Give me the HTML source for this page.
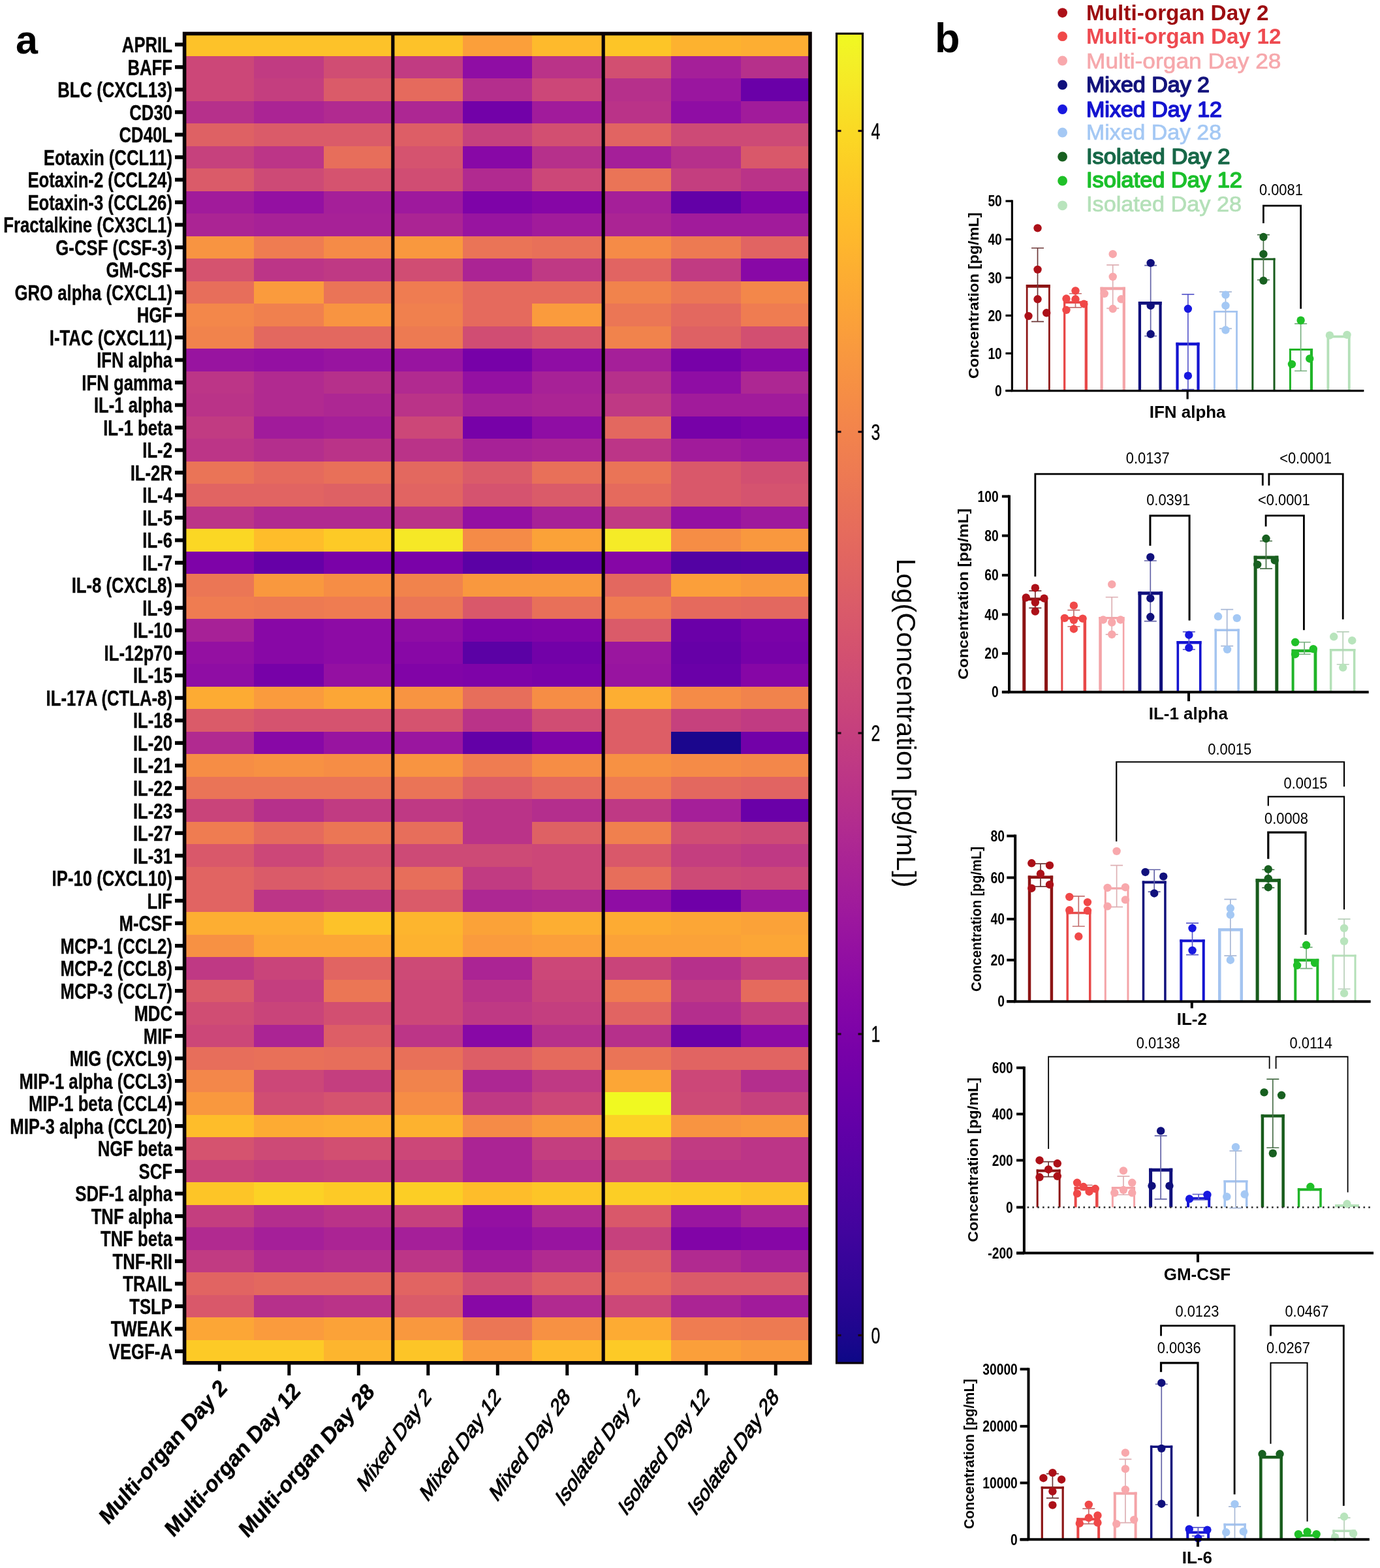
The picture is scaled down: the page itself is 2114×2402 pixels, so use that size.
<!DOCTYPE html>
<html lang="en"><head><meta charset="utf-8"><title>Cytokine heatmap and concentration charts</title>
<style>
html,body{margin:0;padding:0;background:#fff}
body{width:2114px;height:2402px;overflow:hidden}
svg{display:block}
svg text{font-family:"Liberation Sans",sans-serif}
</style></head><body>
<svg width="2114" height="2402" viewBox="0 0 2114 2402">
<rect width="2114" height="2402" fill="#fff"/>
<g shape-rendering="crispEdges">
<rect x="282.6" y="51" width="107.09" height="35.11" fill="#fdc229"/>
<rect x="389.09" y="51" width="107.09" height="35.11" fill="#fdc229"/>
<rect x="495.58" y="51" width="107.09" height="35.11" fill="#fdc229"/>
<rect x="602.07" y="51" width="107.09" height="35.11" fill="#fdc229"/>
<rect x="708.56" y="51" width="107.09" height="35.11" fill="#fb9f3a"/>
<rect x="815.04" y="51" width="107.09" height="35.11" fill="#feba2c"/>
<rect x="921.53" y="51" width="107.09" height="35.11" fill="#fdc527"/>
<rect x="1028.02" y="51" width="107.09" height="35.11" fill="#fdb22f"/>
<rect x="1134.51" y="51" width="107.09" height="35.11" fill="#fdae32"/>
<rect x="282.6" y="85.51" width="107.09" height="35.11" fill="#cc4778"/>
<rect x="389.09" y="85.51" width="107.09" height="35.11" fill="#c13b82"/>
<rect x="495.58" y="85.51" width="107.09" height="35.11" fill="#d04d73"/>
<rect x="602.07" y="85.51" width="107.09" height="35.11" fill="#c13b82"/>
<rect x="708.56" y="85.51" width="107.09" height="35.11" fill="#8f0da4"/>
<rect x="815.04" y="85.51" width="107.09" height="35.11" fill="#ba3388"/>
<rect x="921.53" y="85.51" width="107.09" height="35.11" fill="#d24f71"/>
<rect x="1028.02" y="85.51" width="107.09" height="35.11" fill="#a51f99"/>
<rect x="1134.51" y="85.51" width="107.09" height="35.11" fill="#b6308b"/>
<rect x="282.6" y="120.03" width="107.09" height="35.11" fill="#cc4778"/>
<rect x="389.09" y="120.03" width="107.09" height="35.11" fill="#c43e7f"/>
<rect x="495.58" y="120.03" width="107.09" height="35.11" fill="#da5b69"/>
<rect x="602.07" y="120.03" width="107.09" height="35.11" fill="#e56a5d"/>
<rect x="708.56" y="120.03" width="107.09" height="35.11" fill="#b42e8d"/>
<rect x="815.04" y="120.03" width="107.09" height="35.11" fill="#cc4778"/>
<rect x="921.53" y="120.03" width="107.09" height="35.11" fill="#b6308b"/>
<rect x="1028.02" y="120.03" width="107.09" height="35.11" fill="#9a169f"/>
<rect x="1134.51" y="120.03" width="107.09" height="35.11" fill="#6a00a8"/>
<rect x="282.6" y="154.54" width="107.09" height="35.11" fill="#b6308b"/>
<rect x="389.09" y="154.54" width="107.09" height="35.11" fill="#ab2494"/>
<rect x="495.58" y="154.54" width="107.09" height="35.11" fill="#b12a90"/>
<rect x="602.07" y="154.54" width="107.09" height="35.11" fill="#ad2793"/>
<rect x="708.56" y="154.54" width="107.09" height="35.11" fill="#7201a8"/>
<rect x="815.04" y="154.54" width="107.09" height="35.11" fill="#a11b9b"/>
<rect x="921.53" y="154.54" width="107.09" height="35.11" fill="#ba3388"/>
<rect x="1028.02" y="154.54" width="107.09" height="35.11" fill="#8f0da4"/>
<rect x="1134.51" y="154.54" width="107.09" height="35.11" fill="#a11b9b"/>
<rect x="282.6" y="189.05" width="107.09" height="35.11" fill="#de6164"/>
<rect x="389.09" y="189.05" width="107.09" height="35.11" fill="#da5b69"/>
<rect x="495.58" y="189.05" width="107.09" height="35.11" fill="#da5b69"/>
<rect x="602.07" y="189.05" width="107.09" height="35.11" fill="#dd5e66"/>
<rect x="708.56" y="189.05" width="107.09" height="35.11" fill="#c6417d"/>
<rect x="815.04" y="189.05" width="107.09" height="35.11" fill="#d24f71"/>
<rect x="921.53" y="189.05" width="107.09" height="35.11" fill="#e16462"/>
<rect x="1028.02" y="189.05" width="107.09" height="35.11" fill="#cd4a76"/>
<rect x="1134.51" y="189.05" width="107.09" height="35.11" fill="#cd4a76"/>
<rect x="282.6" y="223.57" width="107.09" height="35.11" fill="#c6417d"/>
<rect x="389.09" y="223.57" width="107.09" height="35.11" fill="#bc3587"/>
<rect x="495.58" y="223.57" width="107.09" height="35.11" fill="#e76e5b"/>
<rect x="602.07" y="223.57" width="107.09" height="35.11" fill="#d5536f"/>
<rect x="708.56" y="223.57" width="107.09" height="35.11" fill="#8808a6"/>
<rect x="815.04" y="223.57" width="107.09" height="35.11" fill="#b6308b"/>
<rect x="921.53" y="223.57" width="107.09" height="35.11" fill="#a51f99"/>
<rect x="1028.02" y="223.57" width="107.09" height="35.11" fill="#b6308b"/>
<rect x="1134.51" y="223.57" width="107.09" height="35.11" fill="#d9586a"/>
<rect x="282.6" y="258.08" width="107.09" height="35.11" fill="#da5b69"/>
<rect x="389.09" y="258.08" width="107.09" height="35.11" fill="#cd4a76"/>
<rect x="495.58" y="258.08" width="107.09" height="35.11" fill="#d5536f"/>
<rect x="602.07" y="258.08" width="107.09" height="35.11" fill="#d04d73"/>
<rect x="708.56" y="258.08" width="107.09" height="35.11" fill="#b12a90"/>
<rect x="815.04" y="258.08" width="107.09" height="35.11" fill="#cc4778"/>
<rect x="921.53" y="258.08" width="107.09" height="35.11" fill="#ea7457"/>
<rect x="1028.02" y="258.08" width="107.09" height="35.11" fill="#c43e7f"/>
<rect x="1134.51" y="258.08" width="107.09" height="35.11" fill="#ba3388"/>
<rect x="282.6" y="292.59" width="107.09" height="35.11" fill="#a11b9b"/>
<rect x="389.09" y="292.59" width="107.09" height="35.11" fill="#9410a2"/>
<rect x="495.58" y="292.59" width="107.09" height="35.11" fill="#a51f99"/>
<rect x="602.07" y="292.59" width="107.09" height="35.11" fill="#9e199d"/>
<rect x="708.56" y="292.59" width="107.09" height="35.11" fill="#7e03a8"/>
<rect x="815.04" y="292.59" width="107.09" height="35.11" fill="#8606a6"/>
<rect x="921.53" y="292.59" width="107.09" height="35.11" fill="#a51f99"/>
<rect x="1028.02" y="292.59" width="107.09" height="35.11" fill="#6300a7"/>
<rect x="1134.51" y="292.59" width="107.09" height="35.11" fill="#8104a7"/>
<rect x="282.6" y="327.11" width="107.09" height="35.11" fill="#ab2494"/>
<rect x="389.09" y="327.11" width="107.09" height="35.11" fill="#a72197"/>
<rect x="495.58" y="327.11" width="107.09" height="35.11" fill="#a72197"/>
<rect x="602.07" y="327.11" width="107.09" height="35.11" fill="#ab2494"/>
<rect x="708.56" y="327.11" width="107.09" height="35.11" fill="#9814a0"/>
<rect x="815.04" y="327.11" width="107.09" height="35.11" fill="#a11b9b"/>
<rect x="921.53" y="327.11" width="107.09" height="35.11" fill="#ab2494"/>
<rect x="1028.02" y="327.11" width="107.09" height="35.11" fill="#a11b9b"/>
<rect x="1134.51" y="327.11" width="107.09" height="35.11" fill="#a11b9b"/>
<rect x="282.6" y="361.62" width="107.09" height="35.11" fill="#f89441"/>
<rect x="389.09" y="361.62" width="107.09" height="35.11" fill="#ef7c51"/>
<rect x="495.58" y="361.62" width="107.09" height="35.11" fill="#f58b47"/>
<rect x="602.07" y="361.62" width="107.09" height="35.11" fill="#f9983e"/>
<rect x="708.56" y="361.62" width="107.09" height="35.11" fill="#ea7457"/>
<rect x="815.04" y="361.62" width="107.09" height="35.11" fill="#e87059"/>
<rect x="921.53" y="361.62" width="107.09" height="35.11" fill="#f58b47"/>
<rect x="1028.02" y="361.62" width="107.09" height="35.11" fill="#ed7a52"/>
<rect x="1134.51" y="361.62" width="107.09" height="35.11" fill="#e16462"/>
<rect x="282.6" y="396.14" width="107.09" height="35.11" fill="#d5536f"/>
<rect x="389.09" y="396.14" width="107.09" height="35.11" fill="#bc3587"/>
<rect x="495.58" y="396.14" width="107.09" height="35.11" fill="#bf3984"/>
<rect x="602.07" y="396.14" width="107.09" height="35.11" fill="#d04d73"/>
<rect x="708.56" y="396.14" width="107.09" height="35.11" fill="#ab2494"/>
<rect x="815.04" y="396.14" width="107.09" height="35.11" fill="#bf3984"/>
<rect x="921.53" y="396.14" width="107.09" height="35.11" fill="#e16462"/>
<rect x="1028.02" y="396.14" width="107.09" height="35.11" fill="#c13b82"/>
<rect x="1134.51" y="396.14" width="107.09" height="35.11" fill="#8808a6"/>
<rect x="282.6" y="430.65" width="107.09" height="35.11" fill="#e76e5b"/>
<rect x="389.09" y="430.65" width="107.09" height="35.11" fill="#fa9b3d"/>
<rect x="495.58" y="430.65" width="107.09" height="35.11" fill="#ea7457"/>
<rect x="602.07" y="430.65" width="107.09" height="35.11" fill="#ef7c51"/>
<rect x="708.56" y="430.65" width="107.09" height="35.11" fill="#e56a5d"/>
<rect x="815.04" y="430.65" width="107.09" height="35.11" fill="#e56a5d"/>
<rect x="921.53" y="430.65" width="107.09" height="35.11" fill="#f1834c"/>
<rect x="1028.02" y="430.65" width="107.09" height="35.11" fill="#eb7655"/>
<rect x="1134.51" y="430.65" width="107.09" height="35.11" fill="#f3874a"/>
<rect x="282.6" y="465.16" width="107.09" height="35.11" fill="#f3874a"/>
<rect x="389.09" y="465.16" width="107.09" height="35.11" fill="#f0804e"/>
<rect x="495.58" y="465.16" width="107.09" height="35.11" fill="#f89441"/>
<rect x="602.07" y="465.16" width="107.09" height="35.11" fill="#f0804e"/>
<rect x="708.56" y="465.16" width="107.09" height="35.11" fill="#e56a5d"/>
<rect x="815.04" y="465.16" width="107.09" height="35.11" fill="#fa9b3d"/>
<rect x="921.53" y="465.16" width="107.09" height="35.11" fill="#eb7655"/>
<rect x="1028.02" y="465.16" width="107.09" height="35.11" fill="#e3685f"/>
<rect x="1134.51" y="465.16" width="107.09" height="35.11" fill="#ef7c51"/>
<rect x="282.6" y="499.68" width="107.09" height="35.11" fill="#f1834c"/>
<rect x="389.09" y="499.68" width="107.09" height="35.11" fill="#e3685f"/>
<rect x="495.58" y="499.68" width="107.09" height="35.11" fill="#e3685f"/>
<rect x="602.07" y="499.68" width="107.09" height="35.11" fill="#ed7a52"/>
<rect x="708.56" y="499.68" width="107.09" height="35.11" fill="#d04d73"/>
<rect x="815.04" y="499.68" width="107.09" height="35.11" fill="#d9586a"/>
<rect x="921.53" y="499.68" width="107.09" height="35.11" fill="#f1834c"/>
<rect x="1028.02" y="499.68" width="107.09" height="35.11" fill="#de6164"/>
<rect x="1134.51" y="499.68" width="107.09" height="35.11" fill="#d24f71"/>
<rect x="282.6" y="534.19" width="107.09" height="35.11" fill="#9814a0"/>
<rect x="389.09" y="534.19" width="107.09" height="35.11" fill="#9410a2"/>
<rect x="495.58" y="534.19" width="107.09" height="35.11" fill="#9814a0"/>
<rect x="602.07" y="534.19" width="107.09" height="35.11" fill="#9814a0"/>
<rect x="708.56" y="534.19" width="107.09" height="35.11" fill="#7701a8"/>
<rect x="815.04" y="534.19" width="107.09" height="35.11" fill="#8f0da4"/>
<rect x="921.53" y="534.19" width="107.09" height="35.11" fill="#a51f99"/>
<rect x="1028.02" y="534.19" width="107.09" height="35.11" fill="#7701a8"/>
<rect x="1134.51" y="534.19" width="107.09" height="35.11" fill="#8808a6"/>
<rect x="282.6" y="568.7" width="107.09" height="35.11" fill="#bc3587"/>
<rect x="389.09" y="568.7" width="107.09" height="35.11" fill="#b12a90"/>
<rect x="495.58" y="568.7" width="107.09" height="35.11" fill="#b6308b"/>
<rect x="602.07" y="568.7" width="107.09" height="35.11" fill="#b12a90"/>
<rect x="708.56" y="568.7" width="107.09" height="35.11" fill="#9410a2"/>
<rect x="815.04" y="568.7" width="107.09" height="35.11" fill="#a72197"/>
<rect x="921.53" y="568.7" width="107.09" height="35.11" fill="#b6308b"/>
<rect x="1028.02" y="568.7" width="107.09" height="35.11" fill="#8f0da4"/>
<rect x="1134.51" y="568.7" width="107.09" height="35.11" fill="#ad2793"/>
<rect x="282.6" y="603.22" width="107.09" height="35.11" fill="#ba3388"/>
<rect x="389.09" y="603.22" width="107.09" height="35.11" fill="#b12a90"/>
<rect x="495.58" y="603.22" width="107.09" height="35.11" fill="#ad2793"/>
<rect x="602.07" y="603.22" width="107.09" height="35.11" fill="#ba3388"/>
<rect x="708.56" y="603.22" width="107.09" height="35.11" fill="#a72197"/>
<rect x="815.04" y="603.22" width="107.09" height="35.11" fill="#ab2494"/>
<rect x="921.53" y="603.22" width="107.09" height="35.11" fill="#bf3984"/>
<rect x="1028.02" y="603.22" width="107.09" height="35.11" fill="#a11b9b"/>
<rect x="1134.51" y="603.22" width="107.09" height="35.11" fill="#a11b9b"/>
<rect x="282.6" y="637.73" width="107.09" height="35.11" fill="#c13b82"/>
<rect x="389.09" y="637.73" width="107.09" height="35.11" fill="#a11b9b"/>
<rect x="495.58" y="637.73" width="107.09" height="35.11" fill="#a51f99"/>
<rect x="602.07" y="637.73" width="107.09" height="35.11" fill="#cc4778"/>
<rect x="708.56" y="637.73" width="107.09" height="35.11" fill="#7701a8"/>
<rect x="815.04" y="637.73" width="107.09" height="35.11" fill="#8f0da4"/>
<rect x="921.53" y="637.73" width="107.09" height="35.11" fill="#e3685f"/>
<rect x="1028.02" y="637.73" width="107.09" height="35.11" fill="#7701a8"/>
<rect x="1134.51" y="637.73" width="107.09" height="35.11" fill="#7e03a8"/>
<rect x="282.6" y="672.24" width="107.09" height="35.11" fill="#bc3587"/>
<rect x="389.09" y="672.24" width="107.09" height="35.11" fill="#b42e8d"/>
<rect x="495.58" y="672.24" width="107.09" height="35.11" fill="#ba3388"/>
<rect x="602.07" y="672.24" width="107.09" height="35.11" fill="#ba3388"/>
<rect x="708.56" y="672.24" width="107.09" height="35.11" fill="#a72197"/>
<rect x="815.04" y="672.24" width="107.09" height="35.11" fill="#ab2494"/>
<rect x="921.53" y="672.24" width="107.09" height="35.11" fill="#bc3587"/>
<rect x="1028.02" y="672.24" width="107.09" height="35.11" fill="#a11b9b"/>
<rect x="1134.51" y="672.24" width="107.09" height="35.11" fill="#9a169f"/>
<rect x="282.6" y="706.76" width="107.09" height="35.11" fill="#ea7457"/>
<rect x="389.09" y="706.76" width="107.09" height="35.11" fill="#e56a5d"/>
<rect x="495.58" y="706.76" width="107.09" height="35.11" fill="#e87059"/>
<rect x="602.07" y="706.76" width="107.09" height="35.11" fill="#e3685f"/>
<rect x="708.56" y="706.76" width="107.09" height="35.11" fill="#da5b69"/>
<rect x="815.04" y="706.76" width="107.09" height="35.11" fill="#e87059"/>
<rect x="921.53" y="706.76" width="107.09" height="35.11" fill="#ea7457"/>
<rect x="1028.02" y="706.76" width="107.09" height="35.11" fill="#d9586a"/>
<rect x="1134.51" y="706.76" width="107.09" height="35.11" fill="#d24f71"/>
<rect x="282.6" y="741.27" width="107.09" height="35.11" fill="#e16462"/>
<rect x="389.09" y="741.27" width="107.09" height="35.11" fill="#e16462"/>
<rect x="495.58" y="741.27" width="107.09" height="35.11" fill="#de6164"/>
<rect x="602.07" y="741.27" width="107.09" height="35.11" fill="#e16462"/>
<rect x="708.56" y="741.27" width="107.09" height="35.11" fill="#d5536f"/>
<rect x="815.04" y="741.27" width="107.09" height="35.11" fill="#da5b69"/>
<rect x="921.53" y="741.27" width="107.09" height="35.11" fill="#e56a5d"/>
<rect x="1028.02" y="741.27" width="107.09" height="35.11" fill="#d9586a"/>
<rect x="1134.51" y="741.27" width="107.09" height="35.11" fill="#d5536f"/>
<rect x="282.6" y="775.78" width="107.09" height="35.11" fill="#bc3587"/>
<rect x="389.09" y="775.78" width="107.09" height="35.11" fill="#b12a90"/>
<rect x="495.58" y="775.78" width="107.09" height="35.11" fill="#b12a90"/>
<rect x="602.07" y="775.78" width="107.09" height="35.11" fill="#ba3388"/>
<rect x="708.56" y="775.78" width="107.09" height="35.11" fill="#9410a2"/>
<rect x="815.04" y="775.78" width="107.09" height="35.11" fill="#a72197"/>
<rect x="921.53" y="775.78" width="107.09" height="35.11" fill="#c13b82"/>
<rect x="1028.02" y="775.78" width="107.09" height="35.11" fill="#9410a2"/>
<rect x="1134.51" y="775.78" width="107.09" height="35.11" fill="#9e199d"/>
<rect x="282.6" y="810.3" width="107.09" height="35.11" fill="#fbd724"/>
<rect x="389.09" y="810.3" width="107.09" height="35.11" fill="#febd2a"/>
<rect x="495.58" y="810.3" width="107.09" height="35.11" fill="#fdca26"/>
<rect x="602.07" y="810.3" width="107.09" height="35.11" fill="#f6e826"/>
<rect x="708.56" y="810.3" width="107.09" height="35.11" fill="#f58b47"/>
<rect x="815.04" y="810.3" width="107.09" height="35.11" fill="#fba238"/>
<rect x="921.53" y="810.3" width="107.09" height="35.11" fill="#f5eb27"/>
<rect x="1028.02" y="810.3" width="107.09" height="35.11" fill="#f68d45"/>
<rect x="1134.51" y="810.3" width="107.09" height="35.11" fill="#f9983e"/>
<rect x="282.6" y="844.81" width="107.09" height="35.11" fill="#7e03a8"/>
<rect x="389.09" y="844.81" width="107.09" height="35.11" fill="#6600a7"/>
<rect x="495.58" y="844.81" width="107.09" height="35.11" fill="#7a02a8"/>
<rect x="602.07" y="844.81" width="107.09" height="35.11" fill="#7a02a8"/>
<rect x="708.56" y="844.81" width="107.09" height="35.11" fill="#5b01a5"/>
<rect x="815.04" y="844.81" width="107.09" height="35.11" fill="#6300a7"/>
<rect x="921.53" y="844.81" width="107.09" height="35.11" fill="#8606a6"/>
<rect x="1028.02" y="844.81" width="107.09" height="35.11" fill="#5302a3"/>
<rect x="1134.51" y="844.81" width="107.09" height="35.11" fill="#5601a4"/>
<rect x="282.6" y="879.33" width="107.09" height="35.11" fill="#eb7655"/>
<rect x="389.09" y="879.33" width="107.09" height="35.11" fill="#f9983e"/>
<rect x="495.58" y="879.33" width="107.09" height="35.11" fill="#f68d45"/>
<rect x="602.07" y="879.33" width="107.09" height="35.11" fill="#f1834c"/>
<rect x="708.56" y="879.33" width="107.09" height="35.11" fill="#f9983e"/>
<rect x="815.04" y="879.33" width="107.09" height="35.11" fill="#f9983e"/>
<rect x="921.53" y="879.33" width="107.09" height="35.11" fill="#e3685f"/>
<rect x="1028.02" y="879.33" width="107.09" height="35.11" fill="#fb9f3a"/>
<rect x="1134.51" y="879.33" width="107.09" height="35.11" fill="#f9983e"/>
<rect x="282.6" y="913.84" width="107.09" height="35.11" fill="#ef7c51"/>
<rect x="389.09" y="913.84" width="107.09" height="35.11" fill="#ed7a52"/>
<rect x="495.58" y="913.84" width="107.09" height="35.11" fill="#ef7c51"/>
<rect x="602.07" y="913.84" width="107.09" height="35.11" fill="#eb7655"/>
<rect x="708.56" y="913.84" width="107.09" height="35.11" fill="#d9586a"/>
<rect x="815.04" y="913.84" width="107.09" height="35.11" fill="#e87059"/>
<rect x="921.53" y="913.84" width="107.09" height="35.11" fill="#ef7c51"/>
<rect x="1028.02" y="913.84" width="107.09" height="35.11" fill="#e56a5d"/>
<rect x="1134.51" y="913.84" width="107.09" height="35.11" fill="#e3685f"/>
<rect x="282.6" y="948.35" width="107.09" height="35.11" fill="#a72197"/>
<rect x="389.09" y="948.35" width="107.09" height="35.11" fill="#8808a6"/>
<rect x="495.58" y="948.35" width="107.09" height="35.11" fill="#8d0ba5"/>
<rect x="602.07" y="948.35" width="107.09" height="35.11" fill="#8f0da4"/>
<rect x="708.56" y="948.35" width="107.09" height="35.11" fill="#7e03a8"/>
<rect x="815.04" y="948.35" width="107.09" height="35.11" fill="#8104a7"/>
<rect x="921.53" y="948.35" width="107.09" height="35.11" fill="#da5b69"/>
<rect x="1028.02" y="948.35" width="107.09" height="35.11" fill="#6a00a8"/>
<rect x="1134.51" y="948.35" width="107.09" height="35.11" fill="#7a02a8"/>
<rect x="282.6" y="982.87" width="107.09" height="35.11" fill="#9410a2"/>
<rect x="389.09" y="982.87" width="107.09" height="35.11" fill="#8808a6"/>
<rect x="495.58" y="982.87" width="107.09" height="35.11" fill="#8d0ba5"/>
<rect x="602.07" y="982.87" width="107.09" height="35.11" fill="#8808a6"/>
<rect x="708.56" y="982.87" width="107.09" height="35.11" fill="#5b01a5"/>
<rect x="815.04" y="982.87" width="107.09" height="35.11" fill="#7201a8"/>
<rect x="921.53" y="982.87" width="107.09" height="35.11" fill="#9a169f"/>
<rect x="1028.02" y="982.87" width="107.09" height="35.11" fill="#6600a7"/>
<rect x="1134.51" y="982.87" width="107.09" height="35.11" fill="#7701a8"/>
<rect x="282.6" y="1017.38" width="107.09" height="35.11" fill="#8f0da4"/>
<rect x="389.09" y="1017.38" width="107.09" height="35.11" fill="#7701a8"/>
<rect x="495.58" y="1017.38" width="107.09" height="35.11" fill="#9410a2"/>
<rect x="602.07" y="1017.38" width="107.09" height="35.11" fill="#8104a7"/>
<rect x="708.56" y="1017.38" width="107.09" height="35.11" fill="#7e03a8"/>
<rect x="815.04" y="1017.38" width="107.09" height="35.11" fill="#7a02a8"/>
<rect x="921.53" y="1017.38" width="107.09" height="35.11" fill="#9814a0"/>
<rect x="1028.02" y="1017.38" width="107.09" height="35.11" fill="#6a00a8"/>
<rect x="1134.51" y="1017.38" width="107.09" height="35.11" fill="#8606a6"/>
<rect x="282.6" y="1051.89" width="107.09" height="35.11" fill="#fdab33"/>
<rect x="389.09" y="1051.89" width="107.09" height="35.11" fill="#fa9b3d"/>
<rect x="495.58" y="1051.89" width="107.09" height="35.11" fill="#fca636"/>
<rect x="602.07" y="1051.89" width="107.09" height="35.11" fill="#f89441"/>
<rect x="708.56" y="1051.89" width="107.09" height="35.11" fill="#e76e5b"/>
<rect x="815.04" y="1051.89" width="107.09" height="35.11" fill="#f68d45"/>
<rect x="921.53" y="1051.89" width="107.09" height="35.11" fill="#fdae32"/>
<rect x="1028.02" y="1051.89" width="107.09" height="35.11" fill="#f58b47"/>
<rect x="1134.51" y="1051.89" width="107.09" height="35.11" fill="#f1834c"/>
<rect x="282.6" y="1086.41" width="107.09" height="35.11" fill="#da5b69"/>
<rect x="389.09" y="1086.41" width="107.09" height="35.11" fill="#d5536f"/>
<rect x="495.58" y="1086.41" width="107.09" height="35.11" fill="#d5536f"/>
<rect x="602.07" y="1086.41" width="107.09" height="35.11" fill="#d5536f"/>
<rect x="708.56" y="1086.41" width="107.09" height="35.11" fill="#ba3388"/>
<rect x="815.04" y="1086.41" width="107.09" height="35.11" fill="#d04d73"/>
<rect x="921.53" y="1086.41" width="107.09" height="35.11" fill="#dd5e66"/>
<rect x="1028.02" y="1086.41" width="107.09" height="35.11" fill="#c6417d"/>
<rect x="1134.51" y="1086.41" width="107.09" height="35.11" fill="#c13b82"/>
<rect x="282.6" y="1120.92" width="107.09" height="35.11" fill="#b12a90"/>
<rect x="389.09" y="1120.92" width="107.09" height="35.11" fill="#8808a6"/>
<rect x="495.58" y="1120.92" width="107.09" height="35.11" fill="#9814a0"/>
<rect x="602.07" y="1120.92" width="107.09" height="35.11" fill="#9a169f"/>
<rect x="708.56" y="1120.92" width="107.09" height="35.11" fill="#6300a7"/>
<rect x="815.04" y="1120.92" width="107.09" height="35.11" fill="#7e03a8"/>
<rect x="921.53" y="1120.92" width="107.09" height="35.11" fill="#dd5e66"/>
<rect x="1028.02" y="1120.92" width="107.09" height="35.11" fill="#1b068d"/>
<rect x="1134.51" y="1120.92" width="107.09" height="35.11" fill="#7201a8"/>
<rect x="282.6" y="1155.43" width="107.09" height="35.11" fill="#f68d45"/>
<rect x="389.09" y="1155.43" width="107.09" height="35.11" fill="#f79143"/>
<rect x="495.58" y="1155.43" width="107.09" height="35.11" fill="#f68d45"/>
<rect x="602.07" y="1155.43" width="107.09" height="35.11" fill="#f89441"/>
<rect x="708.56" y="1155.43" width="107.09" height="35.11" fill="#ef7c51"/>
<rect x="815.04" y="1155.43" width="107.09" height="35.11" fill="#f68d45"/>
<rect x="921.53" y="1155.43" width="107.09" height="35.11" fill="#f79143"/>
<rect x="1028.02" y="1155.43" width="107.09" height="35.11" fill="#f58b47"/>
<rect x="1134.51" y="1155.43" width="107.09" height="35.11" fill="#f3874a"/>
<rect x="282.6" y="1189.95" width="107.09" height="35.11" fill="#ea7457"/>
<rect x="389.09" y="1189.95" width="107.09" height="35.11" fill="#ea7457"/>
<rect x="495.58" y="1189.95" width="107.09" height="35.11" fill="#ea7457"/>
<rect x="602.07" y="1189.95" width="107.09" height="35.11" fill="#ea7457"/>
<rect x="708.56" y="1189.95" width="107.09" height="35.11" fill="#dd5e66"/>
<rect x="815.04" y="1189.95" width="107.09" height="35.11" fill="#e56a5d"/>
<rect x="921.53" y="1189.95" width="107.09" height="35.11" fill="#ef7c51"/>
<rect x="1028.02" y="1189.95" width="107.09" height="35.11" fill="#e3685f"/>
<rect x="1134.51" y="1189.95" width="107.09" height="35.11" fill="#e16462"/>
<rect x="282.6" y="1224.46" width="107.09" height="35.11" fill="#c9447a"/>
<rect x="389.09" y="1224.46" width="107.09" height="35.11" fill="#b6308b"/>
<rect x="495.58" y="1224.46" width="107.09" height="35.11" fill="#c13b82"/>
<rect x="602.07" y="1224.46" width="107.09" height="35.11" fill="#bf3984"/>
<rect x="708.56" y="1224.46" width="107.09" height="35.11" fill="#ba3388"/>
<rect x="815.04" y="1224.46" width="107.09" height="35.11" fill="#b42e8d"/>
<rect x="921.53" y="1224.46" width="107.09" height="35.11" fill="#bf3984"/>
<rect x="1028.02" y="1224.46" width="107.09" height="35.11" fill="#a51f99"/>
<rect x="1134.51" y="1224.46" width="107.09" height="35.11" fill="#6a00a8"/>
<rect x="282.6" y="1258.97" width="107.09" height="35.11" fill="#ef7c51"/>
<rect x="389.09" y="1258.97" width="107.09" height="35.11" fill="#e56a5d"/>
<rect x="495.58" y="1258.97" width="107.09" height="35.11" fill="#eb7655"/>
<rect x="602.07" y="1258.97" width="107.09" height="35.11" fill="#e76e5b"/>
<rect x="708.56" y="1258.97" width="107.09" height="35.11" fill="#ba3388"/>
<rect x="815.04" y="1258.97" width="107.09" height="35.11" fill="#de6164"/>
<rect x="921.53" y="1258.97" width="107.09" height="35.11" fill="#f0804e"/>
<rect x="1028.02" y="1258.97" width="107.09" height="35.11" fill="#d04d73"/>
<rect x="1134.51" y="1258.97" width="107.09" height="35.11" fill="#cd4a76"/>
<rect x="282.6" y="1293.49" width="107.09" height="35.11" fill="#d9586a"/>
<rect x="389.09" y="1293.49" width="107.09" height="35.11" fill="#cc4778"/>
<rect x="495.58" y="1293.49" width="107.09" height="35.11" fill="#d5536f"/>
<rect x="602.07" y="1293.49" width="107.09" height="35.11" fill="#cd4a76"/>
<rect x="708.56" y="1293.49" width="107.09" height="35.11" fill="#cd4a76"/>
<rect x="815.04" y="1293.49" width="107.09" height="35.11" fill="#cc4778"/>
<rect x="921.53" y="1293.49" width="107.09" height="35.11" fill="#d9586a"/>
<rect x="1028.02" y="1293.49" width="107.09" height="35.11" fill="#c43e7f"/>
<rect x="1134.51" y="1293.49" width="107.09" height="35.11" fill="#bf3984"/>
<rect x="282.6" y="1328" width="107.09" height="35.11" fill="#e16462"/>
<rect x="389.09" y="1328" width="107.09" height="35.11" fill="#da5b69"/>
<rect x="495.58" y="1328" width="107.09" height="35.11" fill="#dd5e66"/>
<rect x="602.07" y="1328" width="107.09" height="35.11" fill="#e76e5b"/>
<rect x="708.56" y="1328" width="107.09" height="35.11" fill="#c13b82"/>
<rect x="815.04" y="1328" width="107.09" height="35.11" fill="#cc4778"/>
<rect x="921.53" y="1328" width="107.09" height="35.11" fill="#e76e5b"/>
<rect x="1028.02" y="1328" width="107.09" height="35.11" fill="#cd4a76"/>
<rect x="1134.51" y="1328" width="107.09" height="35.11" fill="#cc4778"/>
<rect x="282.6" y="1362.52" width="107.09" height="35.11" fill="#e16462"/>
<rect x="389.09" y="1362.52" width="107.09" height="35.11" fill="#bc3587"/>
<rect x="495.58" y="1362.52" width="107.09" height="35.11" fill="#c13b82"/>
<rect x="602.07" y="1362.52" width="107.09" height="35.11" fill="#da5b69"/>
<rect x="708.56" y="1362.52" width="107.09" height="35.11" fill="#ad2793"/>
<rect x="815.04" y="1362.52" width="107.09" height="35.11" fill="#b12a90"/>
<rect x="921.53" y="1362.52" width="107.09" height="35.11" fill="#8f0da4"/>
<rect x="1028.02" y="1362.52" width="107.09" height="35.11" fill="#6f00a8"/>
<rect x="1134.51" y="1362.52" width="107.09" height="35.11" fill="#9a169f"/>
<rect x="282.6" y="1397.03" width="107.09" height="35.11" fill="#fdae32"/>
<rect x="389.09" y="1397.03" width="107.09" height="35.11" fill="#fdae32"/>
<rect x="495.58" y="1397.03" width="107.09" height="35.11" fill="#fdc229"/>
<rect x="602.07" y="1397.03" width="107.09" height="35.11" fill="#fdb52e"/>
<rect x="708.56" y="1397.03" width="107.09" height="35.11" fill="#fba238"/>
<rect x="815.04" y="1397.03" width="107.09" height="35.11" fill="#fdae32"/>
<rect x="921.53" y="1397.03" width="107.09" height="35.11" fill="#fdab33"/>
<rect x="1028.02" y="1397.03" width="107.09" height="35.11" fill="#fca636"/>
<rect x="1134.51" y="1397.03" width="107.09" height="35.11" fill="#fba238"/>
<rect x="282.6" y="1431.54" width="107.09" height="35.11" fill="#f79143"/>
<rect x="389.09" y="1431.54" width="107.09" height="35.11" fill="#fca636"/>
<rect x="495.58" y="1431.54" width="107.09" height="35.11" fill="#fca636"/>
<rect x="602.07" y="1431.54" width="107.09" height="35.11" fill="#fdb22f"/>
<rect x="708.56" y="1431.54" width="107.09" height="35.11" fill="#fa9b3d"/>
<rect x="815.04" y="1431.54" width="107.09" height="35.11" fill="#fb9f3a"/>
<rect x="921.53" y="1431.54" width="107.09" height="35.11" fill="#fba238"/>
<rect x="1028.02" y="1431.54" width="107.09" height="35.11" fill="#fba238"/>
<rect x="1134.51" y="1431.54" width="107.09" height="35.11" fill="#fca636"/>
<rect x="282.6" y="1466.06" width="107.09" height="35.11" fill="#bf3984"/>
<rect x="389.09" y="1466.06" width="107.09" height="35.11" fill="#c9447a"/>
<rect x="495.58" y="1466.06" width="107.09" height="35.11" fill="#e16462"/>
<rect x="602.07" y="1466.06" width="107.09" height="35.11" fill="#cd4a76"/>
<rect x="708.56" y="1466.06" width="107.09" height="35.11" fill="#ab2494"/>
<rect x="815.04" y="1466.06" width="107.09" height="35.11" fill="#cc4778"/>
<rect x="921.53" y="1466.06" width="107.09" height="35.11" fill="#c9447a"/>
<rect x="1028.02" y="1466.06" width="107.09" height="35.11" fill="#b6308b"/>
<rect x="1134.51" y="1466.06" width="107.09" height="35.11" fill="#c6417d"/>
<rect x="282.6" y="1500.57" width="107.09" height="35.11" fill="#da5b69"/>
<rect x="389.09" y="1500.57" width="107.09" height="35.11" fill="#c43e7f"/>
<rect x="495.58" y="1500.57" width="107.09" height="35.11" fill="#eb7655"/>
<rect x="602.07" y="1500.57" width="107.09" height="35.11" fill="#cc4778"/>
<rect x="708.56" y="1500.57" width="107.09" height="35.11" fill="#ba3388"/>
<rect x="815.04" y="1500.57" width="107.09" height="35.11" fill="#c9447a"/>
<rect x="921.53" y="1500.57" width="107.09" height="35.11" fill="#ef7c51"/>
<rect x="1028.02" y="1500.57" width="107.09" height="35.11" fill="#bf3984"/>
<rect x="1134.51" y="1500.57" width="107.09" height="35.11" fill="#e56a5d"/>
<rect x="282.6" y="1535.08" width="107.09" height="35.11" fill="#d04d73"/>
<rect x="389.09" y="1535.08" width="107.09" height="35.11" fill="#c9447a"/>
<rect x="495.58" y="1535.08" width="107.09" height="35.11" fill="#d24f71"/>
<rect x="602.07" y="1535.08" width="107.09" height="35.11" fill="#cc4778"/>
<rect x="708.56" y="1535.08" width="107.09" height="35.11" fill="#bf3984"/>
<rect x="815.04" y="1535.08" width="107.09" height="35.11" fill="#c43e7f"/>
<rect x="921.53" y="1535.08" width="107.09" height="35.11" fill="#e16462"/>
<rect x="1028.02" y="1535.08" width="107.09" height="35.11" fill="#b42e8d"/>
<rect x="1134.51" y="1535.08" width="107.09" height="35.11" fill="#c43e7f"/>
<rect x="282.6" y="1569.6" width="107.09" height="35.11" fill="#cc4778"/>
<rect x="389.09" y="1569.6" width="107.09" height="35.11" fill="#ab2494"/>
<rect x="495.58" y="1569.6" width="107.09" height="35.11" fill="#dd5e66"/>
<rect x="602.07" y="1569.6" width="107.09" height="35.11" fill="#bc3587"/>
<rect x="708.56" y="1569.6" width="107.09" height="35.11" fill="#8808a6"/>
<rect x="815.04" y="1569.6" width="107.09" height="35.11" fill="#b6308b"/>
<rect x="921.53" y="1569.6" width="107.09" height="35.11" fill="#b6308b"/>
<rect x="1028.02" y="1569.6" width="107.09" height="35.11" fill="#6a00a8"/>
<rect x="1134.51" y="1569.6" width="107.09" height="35.11" fill="#8d0ba5"/>
<rect x="282.6" y="1604.11" width="107.09" height="35.11" fill="#e76e5b"/>
<rect x="389.09" y="1604.11" width="107.09" height="35.11" fill="#e87059"/>
<rect x="495.58" y="1604.11" width="107.09" height="35.11" fill="#e76e5b"/>
<rect x="602.07" y="1604.11" width="107.09" height="35.11" fill="#e87059"/>
<rect x="708.56" y="1604.11" width="107.09" height="35.11" fill="#dd5e66"/>
<rect x="815.04" y="1604.11" width="107.09" height="35.11" fill="#e56a5d"/>
<rect x="921.53" y="1604.11" width="107.09" height="35.11" fill="#ea7457"/>
<rect x="1028.02" y="1604.11" width="107.09" height="35.11" fill="#e16462"/>
<rect x="1134.51" y="1604.11" width="107.09" height="35.11" fill="#e16462"/>
<rect x="282.6" y="1638.62" width="107.09" height="35.11" fill="#f3874a"/>
<rect x="389.09" y="1638.62" width="107.09" height="35.11" fill="#cc4778"/>
<rect x="495.58" y="1638.62" width="107.09" height="35.11" fill="#c43e7f"/>
<rect x="602.07" y="1638.62" width="107.09" height="35.11" fill="#f1834c"/>
<rect x="708.56" y="1638.62" width="107.09" height="35.11" fill="#ad2793"/>
<rect x="815.04" y="1638.62" width="107.09" height="35.11" fill="#bf3984"/>
<rect x="921.53" y="1638.62" width="107.09" height="35.11" fill="#fca636"/>
<rect x="1028.02" y="1638.62" width="107.09" height="35.11" fill="#cc4778"/>
<rect x="1134.51" y="1638.62" width="107.09" height="35.11" fill="#b42e8d"/>
<rect x="282.6" y="1673.14" width="107.09" height="35.11" fill="#f9983e"/>
<rect x="389.09" y="1673.14" width="107.09" height="35.11" fill="#d04d73"/>
<rect x="495.58" y="1673.14" width="107.09" height="35.11" fill="#d5536f"/>
<rect x="602.07" y="1673.14" width="107.09" height="35.11" fill="#f68d45"/>
<rect x="708.56" y="1673.14" width="107.09" height="35.11" fill="#bf3984"/>
<rect x="815.04" y="1673.14" width="107.09" height="35.11" fill="#cc4778"/>
<rect x="921.53" y="1673.14" width="107.09" height="35.11" fill="#f0f921"/>
<rect x="1028.02" y="1673.14" width="107.09" height="35.11" fill="#cd4a76"/>
<rect x="1134.51" y="1673.14" width="107.09" height="35.11" fill="#c6417d"/>
<rect x="282.6" y="1707.65" width="107.09" height="35.11" fill="#febd2a"/>
<rect x="389.09" y="1707.65" width="107.09" height="35.11" fill="#fdab33"/>
<rect x="495.58" y="1707.65" width="107.09" height="35.11" fill="#fdae32"/>
<rect x="602.07" y="1707.65" width="107.09" height="35.11" fill="#fdb22f"/>
<rect x="708.56" y="1707.65" width="107.09" height="35.11" fill="#f58b47"/>
<rect x="815.04" y="1707.65" width="107.09" height="35.11" fill="#f9983e"/>
<rect x="921.53" y="1707.65" width="107.09" height="35.11" fill="#fcd225"/>
<rect x="1028.02" y="1707.65" width="107.09" height="35.11" fill="#f89441"/>
<rect x="1134.51" y="1707.65" width="107.09" height="35.11" fill="#f9983e"/>
<rect x="282.6" y="1742.16" width="107.09" height="35.11" fill="#d5536f"/>
<rect x="389.09" y="1742.16" width="107.09" height="35.11" fill="#cd4a76"/>
<rect x="495.58" y="1742.16" width="107.09" height="35.11" fill="#d24f71"/>
<rect x="602.07" y="1742.16" width="107.09" height="35.11" fill="#cc4778"/>
<rect x="708.56" y="1742.16" width="107.09" height="35.11" fill="#ab2494"/>
<rect x="815.04" y="1742.16" width="107.09" height="35.11" fill="#c43e7f"/>
<rect x="921.53" y="1742.16" width="107.09" height="35.11" fill="#d6556d"/>
<rect x="1028.02" y="1742.16" width="107.09" height="35.11" fill="#c13b82"/>
<rect x="1134.51" y="1742.16" width="107.09" height="35.11" fill="#bc3587"/>
<rect x="282.6" y="1776.68" width="107.09" height="35.11" fill="#c9447a"/>
<rect x="389.09" y="1776.68" width="107.09" height="35.11" fill="#c43e7f"/>
<rect x="495.58" y="1776.68" width="107.09" height="35.11" fill="#c6417d"/>
<rect x="602.07" y="1776.68" width="107.09" height="35.11" fill="#c43e7f"/>
<rect x="708.56" y="1776.68" width="107.09" height="35.11" fill="#ab2494"/>
<rect x="815.04" y="1776.68" width="107.09" height="35.11" fill="#bc3587"/>
<rect x="921.53" y="1776.68" width="107.09" height="35.11" fill="#cd4a76"/>
<rect x="1028.02" y="1776.68" width="107.09" height="35.11" fill="#bc3587"/>
<rect x="1134.51" y="1776.68" width="107.09" height="35.11" fill="#bc3587"/>
<rect x="282.6" y="1811.19" width="107.09" height="35.11" fill="#fdc527"/>
<rect x="389.09" y="1811.19" width="107.09" height="35.11" fill="#fcd225"/>
<rect x="495.58" y="1811.19" width="107.09" height="35.11" fill="#fdca26"/>
<rect x="602.07" y="1811.19" width="107.09" height="35.11" fill="#fcce25"/>
<rect x="708.56" y="1811.19" width="107.09" height="35.11" fill="#febd2a"/>
<rect x="815.04" y="1811.19" width="107.09" height="35.11" fill="#fdc527"/>
<rect x="921.53" y="1811.19" width="107.09" height="35.11" fill="#fcce25"/>
<rect x="1028.02" y="1811.19" width="107.09" height="35.11" fill="#fdca26"/>
<rect x="1134.51" y="1811.19" width="107.09" height="35.11" fill="#fdc229"/>
<rect x="282.6" y="1845.71" width="107.09" height="35.11" fill="#c43e7f"/>
<rect x="389.09" y="1845.71" width="107.09" height="35.11" fill="#b42e8d"/>
<rect x="495.58" y="1845.71" width="107.09" height="35.11" fill="#ba3388"/>
<rect x="602.07" y="1845.71" width="107.09" height="35.11" fill="#c6417d"/>
<rect x="708.56" y="1845.71" width="107.09" height="35.11" fill="#9410a2"/>
<rect x="815.04" y="1845.71" width="107.09" height="35.11" fill="#b12a90"/>
<rect x="921.53" y="1845.71" width="107.09" height="35.11" fill="#d9586a"/>
<rect x="1028.02" y="1845.71" width="107.09" height="35.11" fill="#9a169f"/>
<rect x="1134.51" y="1845.71" width="107.09" height="35.11" fill="#ab2494"/>
<rect x="282.6" y="1880.22" width="107.09" height="35.11" fill="#b12a90"/>
<rect x="389.09" y="1880.22" width="107.09" height="35.11" fill="#a51f99"/>
<rect x="495.58" y="1880.22" width="107.09" height="35.11" fill="#ab2494"/>
<rect x="602.07" y="1880.22" width="107.09" height="35.11" fill="#a51f99"/>
<rect x="708.56" y="1880.22" width="107.09" height="35.11" fill="#8f0da4"/>
<rect x="815.04" y="1880.22" width="107.09" height="35.11" fill="#9814a0"/>
<rect x="921.53" y="1880.22" width="107.09" height="35.11" fill="#c6417d"/>
<rect x="1028.02" y="1880.22" width="107.09" height="35.11" fill="#8104a7"/>
<rect x="1134.51" y="1880.22" width="107.09" height="35.11" fill="#8606a6"/>
<rect x="282.6" y="1914.73" width="107.09" height="35.11" fill="#c13b82"/>
<rect x="389.09" y="1914.73" width="107.09" height="35.11" fill="#b12a90"/>
<rect x="495.58" y="1914.73" width="107.09" height="35.11" fill="#b42e8d"/>
<rect x="602.07" y="1914.73" width="107.09" height="35.11" fill="#bc3587"/>
<rect x="708.56" y="1914.73" width="107.09" height="35.11" fill="#a11b9b"/>
<rect x="815.04" y="1914.73" width="107.09" height="35.11" fill="#b12a90"/>
<rect x="921.53" y="1914.73" width="107.09" height="35.11" fill="#de6164"/>
<rect x="1028.02" y="1914.73" width="107.09" height="35.11" fill="#b12a90"/>
<rect x="1134.51" y="1914.73" width="107.09" height="35.11" fill="#a72197"/>
<rect x="282.6" y="1949.25" width="107.09" height="35.11" fill="#e16462"/>
<rect x="389.09" y="1949.25" width="107.09" height="35.11" fill="#e3685f"/>
<rect x="495.58" y="1949.25" width="107.09" height="35.11" fill="#e3685f"/>
<rect x="602.07" y="1949.25" width="107.09" height="35.11" fill="#e16462"/>
<rect x="708.56" y="1949.25" width="107.09" height="35.11" fill="#d24f71"/>
<rect x="815.04" y="1949.25" width="107.09" height="35.11" fill="#dd5e66"/>
<rect x="921.53" y="1949.25" width="107.09" height="35.11" fill="#e56a5d"/>
<rect x="1028.02" y="1949.25" width="107.09" height="35.11" fill="#da5b69"/>
<rect x="1134.51" y="1949.25" width="107.09" height="35.11" fill="#da5b69"/>
<rect x="282.6" y="1983.76" width="107.09" height="35.11" fill="#d9586a"/>
<rect x="389.09" y="1983.76" width="107.09" height="35.11" fill="#b6308b"/>
<rect x="495.58" y="1983.76" width="107.09" height="35.11" fill="#ba3388"/>
<rect x="602.07" y="1983.76" width="107.09" height="35.11" fill="#da5b69"/>
<rect x="708.56" y="1983.76" width="107.09" height="35.11" fill="#8808a6"/>
<rect x="815.04" y="1983.76" width="107.09" height="35.11" fill="#b12a90"/>
<rect x="921.53" y="1983.76" width="107.09" height="35.11" fill="#cc4778"/>
<rect x="1028.02" y="1983.76" width="107.09" height="35.11" fill="#ab2494"/>
<rect x="1134.51" y="1983.76" width="107.09" height="35.11" fill="#a11b9b"/>
<rect x="282.6" y="2018.27" width="107.09" height="35.11" fill="#fca636"/>
<rect x="389.09" y="2018.27" width="107.09" height="35.11" fill="#fa9b3d"/>
<rect x="495.58" y="2018.27" width="107.09" height="35.11" fill="#fba238"/>
<rect x="602.07" y="2018.27" width="107.09" height="35.11" fill="#f9983e"/>
<rect x="708.56" y="2018.27" width="107.09" height="35.11" fill="#eb7655"/>
<rect x="815.04" y="2018.27" width="107.09" height="35.11" fill="#f79143"/>
<rect x="921.53" y="2018.27" width="107.09" height="35.11" fill="#fdab33"/>
<rect x="1028.02" y="2018.27" width="107.09" height="35.11" fill="#ef7c51"/>
<rect x="1134.51" y="2018.27" width="107.09" height="35.11" fill="#ed7a52"/>
<rect x="282.6" y="2052.79" width="107.09" height="35.11" fill="#fdca26"/>
<rect x="389.09" y="2052.79" width="107.09" height="35.11" fill="#fdca26"/>
<rect x="495.58" y="2052.79" width="107.09" height="35.11" fill="#fdb52e"/>
<rect x="602.07" y="2052.79" width="107.09" height="35.11" fill="#fdc527"/>
<rect x="708.56" y="2052.79" width="107.09" height="35.11" fill="#fa9b3d"/>
<rect x="815.04" y="2052.79" width="107.09" height="35.11" fill="#feba2c"/>
<rect x="921.53" y="2052.79" width="107.09" height="35.11" fill="#fdca26"/>
<rect x="1028.02" y="2052.79" width="107.09" height="35.11" fill="#fb9f3a"/>
<rect x="1134.51" y="2052.79" width="107.09" height="35.11" fill="#f9983e"/>
</g>
<line x1="601.8" y1="51" x2="601.8" y2="2087.3" stroke="#0a0205" stroke-width="5.2"/>
<line x1="924.2" y1="51" x2="924.2" y2="2087.3" stroke="#0a0205" stroke-width="5.2"/>
<rect x="282.6" y="51.5" width="958.4" height="2036.3" fill="none" stroke="#0a0205" stroke-width="5.6"/>
<line x1="268" y1="68.26" x2="281" y2="68.26" stroke="#000" stroke-width="5.8"/>
<text transform="translate(264 80.06) scale(0.7800 1)" font-size="33" fill="#000" font-weight="bold" text-anchor="end" stroke="#000" stroke-width="0.35">APRIL</text>
<line x1="268" y1="102.77" x2="281" y2="102.77" stroke="#000" stroke-width="5.8"/>
<text transform="translate(264 114.57) scale(0.7800 1)" font-size="33" fill="#000" font-weight="bold" text-anchor="end" stroke="#000" stroke-width="0.35">BAFF</text>
<line x1="268" y1="137.28" x2="281" y2="137.28" stroke="#000" stroke-width="5.8"/>
<text transform="translate(264 149.08) scale(0.7800 1)" font-size="33" fill="#000" font-weight="bold" text-anchor="end" stroke="#000" stroke-width="0.35">BLC (CXCL13)</text>
<line x1="268" y1="171.8" x2="281" y2="171.8" stroke="#000" stroke-width="5.8"/>
<text transform="translate(264 183.6) scale(0.7800 1)" font-size="33" fill="#000" font-weight="bold" text-anchor="end" stroke="#000" stroke-width="0.35">CD30</text>
<line x1="268" y1="206.31" x2="281" y2="206.31" stroke="#000" stroke-width="5.8"/>
<text transform="translate(264 218.11) scale(0.7800 1)" font-size="33" fill="#000" font-weight="bold" text-anchor="end" stroke="#000" stroke-width="0.35">CD40L</text>
<line x1="268" y1="240.82" x2="281" y2="240.82" stroke="#000" stroke-width="5.8"/>
<text transform="translate(264 252.62) scale(0.7800 1)" font-size="33" fill="#000" font-weight="bold" text-anchor="end" stroke="#000" stroke-width="0.35">Eotaxin (CCL11)</text>
<line x1="268" y1="275.34" x2="281" y2="275.34" stroke="#000" stroke-width="5.8"/>
<text transform="translate(264 287.14) scale(0.7800 1)" font-size="33" fill="#000" font-weight="bold" text-anchor="end" stroke="#000" stroke-width="0.35">Eotaxin-2 (CCL24)</text>
<line x1="268" y1="309.85" x2="281" y2="309.85" stroke="#000" stroke-width="5.8"/>
<text transform="translate(264 321.65) scale(0.7800 1)" font-size="33" fill="#000" font-weight="bold" text-anchor="end" stroke="#000" stroke-width="0.35">Eotaxin-3 (CCL26)</text>
<line x1="268" y1="344.37" x2="281" y2="344.37" stroke="#000" stroke-width="5.8"/>
<text transform="translate(264 356.17) scale(0.7800 1)" font-size="33" fill="#000" font-weight="bold" text-anchor="end" stroke="#000" stroke-width="0.35">Fractalkine (CX3CL1)</text>
<line x1="268" y1="378.88" x2="281" y2="378.88" stroke="#000" stroke-width="5.8"/>
<text transform="translate(264 390.68) scale(0.7800 1)" font-size="33" fill="#000" font-weight="bold" text-anchor="end" stroke="#000" stroke-width="0.35">G-CSF (CSF-3)</text>
<line x1="268" y1="413.39" x2="281" y2="413.39" stroke="#000" stroke-width="5.8"/>
<text transform="translate(264 425.19) scale(0.7800 1)" font-size="33" fill="#000" font-weight="bold" text-anchor="end" stroke="#000" stroke-width="0.35">GM-CSF</text>
<line x1="268" y1="447.91" x2="281" y2="447.91" stroke="#000" stroke-width="5.8"/>
<text transform="translate(264 459.71) scale(0.7800 1)" font-size="33" fill="#000" font-weight="bold" text-anchor="end" stroke="#000" stroke-width="0.35">GRO alpha (CXCL1)</text>
<line x1="268" y1="482.42" x2="281" y2="482.42" stroke="#000" stroke-width="5.8"/>
<text transform="translate(264 494.22) scale(0.7800 1)" font-size="33" fill="#000" font-weight="bold" text-anchor="end" stroke="#000" stroke-width="0.35">HGF</text>
<line x1="268" y1="516.93" x2="281" y2="516.93" stroke="#000" stroke-width="5.8"/>
<text transform="translate(264 528.73) scale(0.7800 1)" font-size="33" fill="#000" font-weight="bold" text-anchor="end" stroke="#000" stroke-width="0.35">I-TAC (CXCL11)</text>
<line x1="268" y1="551.45" x2="281" y2="551.45" stroke="#000" stroke-width="5.8"/>
<text transform="translate(264 563.25) scale(0.7800 1)" font-size="33" fill="#000" font-weight="bold" text-anchor="end" stroke="#000" stroke-width="0.35">IFN alpha</text>
<line x1="268" y1="585.96" x2="281" y2="585.96" stroke="#000" stroke-width="5.8"/>
<text transform="translate(264 597.76) scale(0.7800 1)" font-size="33" fill="#000" font-weight="bold" text-anchor="end" stroke="#000" stroke-width="0.35">IFN gamma</text>
<line x1="268" y1="620.47" x2="281" y2="620.47" stroke="#000" stroke-width="5.8"/>
<text transform="translate(264 632.27) scale(0.7800 1)" font-size="33" fill="#000" font-weight="bold" text-anchor="end" stroke="#000" stroke-width="0.35">IL-1 alpha</text>
<line x1="268" y1="654.99" x2="281" y2="654.99" stroke="#000" stroke-width="5.8"/>
<text transform="translate(264 666.79) scale(0.7800 1)" font-size="33" fill="#000" font-weight="bold" text-anchor="end" stroke="#000" stroke-width="0.35">IL-1 beta</text>
<line x1="268" y1="689.5" x2="281" y2="689.5" stroke="#000" stroke-width="5.8"/>
<text transform="translate(264 701.3) scale(0.7800 1)" font-size="33" fill="#000" font-weight="bold" text-anchor="end" stroke="#000" stroke-width="0.35">IL-2</text>
<line x1="268" y1="724.01" x2="281" y2="724.01" stroke="#000" stroke-width="5.8"/>
<text transform="translate(264 735.81) scale(0.7800 1)" font-size="33" fill="#000" font-weight="bold" text-anchor="end" stroke="#000" stroke-width="0.35">IL-2R</text>
<line x1="268" y1="758.53" x2="281" y2="758.53" stroke="#000" stroke-width="5.8"/>
<text transform="translate(264 770.33) scale(0.7800 1)" font-size="33" fill="#000" font-weight="bold" text-anchor="end" stroke="#000" stroke-width="0.35">IL-4</text>
<line x1="268" y1="793.04" x2="281" y2="793.04" stroke="#000" stroke-width="5.8"/>
<text transform="translate(264 804.84) scale(0.7800 1)" font-size="33" fill="#000" font-weight="bold" text-anchor="end" stroke="#000" stroke-width="0.35">IL-5</text>
<line x1="268" y1="827.56" x2="281" y2="827.56" stroke="#000" stroke-width="5.8"/>
<text transform="translate(264 839.36) scale(0.7800 1)" font-size="33" fill="#000" font-weight="bold" text-anchor="end" stroke="#000" stroke-width="0.35">IL-6</text>
<line x1="268" y1="862.07" x2="281" y2="862.07" stroke="#000" stroke-width="5.8"/>
<text transform="translate(264 873.87) scale(0.7800 1)" font-size="33" fill="#000" font-weight="bold" text-anchor="end" stroke="#000" stroke-width="0.35">IL-7</text>
<line x1="268" y1="896.58" x2="281" y2="896.58" stroke="#000" stroke-width="5.8"/>
<text transform="translate(264 908.38) scale(0.7800 1)" font-size="33" fill="#000" font-weight="bold" text-anchor="end" stroke="#000" stroke-width="0.35">IL-8 (CXCL8)</text>
<line x1="268" y1="931.1" x2="281" y2="931.1" stroke="#000" stroke-width="5.8"/>
<text transform="translate(264 942.9) scale(0.7800 1)" font-size="33" fill="#000" font-weight="bold" text-anchor="end" stroke="#000" stroke-width="0.35">IL-9</text>
<line x1="268" y1="965.61" x2="281" y2="965.61" stroke="#000" stroke-width="5.8"/>
<text transform="translate(264 977.41) scale(0.7800 1)" font-size="33" fill="#000" font-weight="bold" text-anchor="end" stroke="#000" stroke-width="0.35">IL-10</text>
<line x1="268" y1="1000.12" x2="281" y2="1000.12" stroke="#000" stroke-width="5.8"/>
<text transform="translate(264 1011.92) scale(0.7800 1)" font-size="33" fill="#000" font-weight="bold" text-anchor="end" stroke="#000" stroke-width="0.35">IL-12p70</text>
<line x1="268" y1="1034.64" x2="281" y2="1034.64" stroke="#000" stroke-width="5.8"/>
<text transform="translate(264 1046.44) scale(0.7800 1)" font-size="33" fill="#000" font-weight="bold" text-anchor="end" stroke="#000" stroke-width="0.35">IL-15</text>
<line x1="268" y1="1069.15" x2="281" y2="1069.15" stroke="#000" stroke-width="5.8"/>
<text transform="translate(264 1080.95) scale(0.7800 1)" font-size="33" fill="#000" font-weight="bold" text-anchor="end" stroke="#000" stroke-width="0.35">IL-17A (CTLA-8)</text>
<line x1="268" y1="1103.66" x2="281" y2="1103.66" stroke="#000" stroke-width="5.8"/>
<text transform="translate(264 1115.46) scale(0.7800 1)" font-size="33" fill="#000" font-weight="bold" text-anchor="end" stroke="#000" stroke-width="0.35">IL-18</text>
<line x1="268" y1="1138.18" x2="281" y2="1138.18" stroke="#000" stroke-width="5.8"/>
<text transform="translate(264 1149.98) scale(0.7800 1)" font-size="33" fill="#000" font-weight="bold" text-anchor="end" stroke="#000" stroke-width="0.35">IL-20</text>
<line x1="268" y1="1172.69" x2="281" y2="1172.69" stroke="#000" stroke-width="5.8"/>
<text transform="translate(264 1184.49) scale(0.7800 1)" font-size="33" fill="#000" font-weight="bold" text-anchor="end" stroke="#000" stroke-width="0.35">IL-21</text>
<line x1="268" y1="1207.2" x2="281" y2="1207.2" stroke="#000" stroke-width="5.8"/>
<text transform="translate(264 1219) scale(0.7800 1)" font-size="33" fill="#000" font-weight="bold" text-anchor="end" stroke="#000" stroke-width="0.35">IL-22</text>
<line x1="268" y1="1241.72" x2="281" y2="1241.72" stroke="#000" stroke-width="5.8"/>
<text transform="translate(264 1253.52) scale(0.7800 1)" font-size="33" fill="#000" font-weight="bold" text-anchor="end" stroke="#000" stroke-width="0.35">IL-23</text>
<line x1="268" y1="1276.23" x2="281" y2="1276.23" stroke="#000" stroke-width="5.8"/>
<text transform="translate(264 1288.03) scale(0.7800 1)" font-size="33" fill="#000" font-weight="bold" text-anchor="end" stroke="#000" stroke-width="0.35">IL-27</text>
<line x1="268" y1="1310.74" x2="281" y2="1310.74" stroke="#000" stroke-width="5.8"/>
<text transform="translate(264 1322.54) scale(0.7800 1)" font-size="33" fill="#000" font-weight="bold" text-anchor="end" stroke="#000" stroke-width="0.35">IL-31</text>
<line x1="268" y1="1345.26" x2="281" y2="1345.26" stroke="#000" stroke-width="5.8"/>
<text transform="translate(264 1357.06) scale(0.7800 1)" font-size="33" fill="#000" font-weight="bold" text-anchor="end" stroke="#000" stroke-width="0.35">IP-10 (CXCL10)</text>
<line x1="268" y1="1379.77" x2="281" y2="1379.77" stroke="#000" stroke-width="5.8"/>
<text transform="translate(264 1391.57) scale(0.7800 1)" font-size="33" fill="#000" font-weight="bold" text-anchor="end" stroke="#000" stroke-width="0.35">LIF</text>
<line x1="268" y1="1414.29" x2="281" y2="1414.29" stroke="#000" stroke-width="5.8"/>
<text transform="translate(264 1426.09) scale(0.7800 1)" font-size="33" fill="#000" font-weight="bold" text-anchor="end" stroke="#000" stroke-width="0.35">M-CSF</text>
<line x1="268" y1="1448.8" x2="281" y2="1448.8" stroke="#000" stroke-width="5.8"/>
<text transform="translate(264 1460.6) scale(0.7800 1)" font-size="33" fill="#000" font-weight="bold" text-anchor="end" stroke="#000" stroke-width="0.35">MCP-1 (CCL2)</text>
<line x1="268" y1="1483.31" x2="281" y2="1483.31" stroke="#000" stroke-width="5.8"/>
<text transform="translate(264 1495.11) scale(0.7800 1)" font-size="33" fill="#000" font-weight="bold" text-anchor="end" stroke="#000" stroke-width="0.35">MCP-2 (CCL8)</text>
<line x1="268" y1="1517.83" x2="281" y2="1517.83" stroke="#000" stroke-width="5.8"/>
<text transform="translate(264 1529.63) scale(0.7800 1)" font-size="33" fill="#000" font-weight="bold" text-anchor="end" stroke="#000" stroke-width="0.35">MCP-3 (CCL7)</text>
<line x1="268" y1="1552.34" x2="281" y2="1552.34" stroke="#000" stroke-width="5.8"/>
<text transform="translate(264 1564.14) scale(0.7800 1)" font-size="33" fill="#000" font-weight="bold" text-anchor="end" stroke="#000" stroke-width="0.35">MDC</text>
<line x1="268" y1="1586.85" x2="281" y2="1586.85" stroke="#000" stroke-width="5.8"/>
<text transform="translate(264 1598.65) scale(0.7800 1)" font-size="33" fill="#000" font-weight="bold" text-anchor="end" stroke="#000" stroke-width="0.35">MIF</text>
<line x1="268" y1="1621.37" x2="281" y2="1621.37" stroke="#000" stroke-width="5.8"/>
<text transform="translate(264 1633.17) scale(0.7800 1)" font-size="33" fill="#000" font-weight="bold" text-anchor="end" stroke="#000" stroke-width="0.35">MIG (CXCL9)</text>
<line x1="268" y1="1655.88" x2="281" y2="1655.88" stroke="#000" stroke-width="5.8"/>
<text transform="translate(264 1667.68) scale(0.7800 1)" font-size="33" fill="#000" font-weight="bold" text-anchor="end" stroke="#000" stroke-width="0.35">MIP-1 alpha (CCL3)</text>
<line x1="268" y1="1690.39" x2="281" y2="1690.39" stroke="#000" stroke-width="5.8"/>
<text transform="translate(264 1702.19) scale(0.7800 1)" font-size="33" fill="#000" font-weight="bold" text-anchor="end" stroke="#000" stroke-width="0.35">MIP-1 beta (CCL4)</text>
<line x1="268" y1="1724.91" x2="281" y2="1724.91" stroke="#000" stroke-width="5.8"/>
<text transform="translate(264 1736.71) scale(0.7800 1)" font-size="33" fill="#000" font-weight="bold" text-anchor="end" stroke="#000" stroke-width="0.35">MIP-3 alpha (CCL20)</text>
<line x1="268" y1="1759.42" x2="281" y2="1759.42" stroke="#000" stroke-width="5.8"/>
<text transform="translate(264 1771.22) scale(0.7800 1)" font-size="33" fill="#000" font-weight="bold" text-anchor="end" stroke="#000" stroke-width="0.35">NGF beta</text>
<line x1="268" y1="1793.93" x2="281" y2="1793.93" stroke="#000" stroke-width="5.8"/>
<text transform="translate(264 1805.73) scale(0.7800 1)" font-size="33" fill="#000" font-weight="bold" text-anchor="end" stroke="#000" stroke-width="0.35">SCF</text>
<line x1="268" y1="1828.45" x2="281" y2="1828.45" stroke="#000" stroke-width="5.8"/>
<text transform="translate(264 1840.25) scale(0.7800 1)" font-size="33" fill="#000" font-weight="bold" text-anchor="end" stroke="#000" stroke-width="0.35">SDF-1 alpha</text>
<line x1="268" y1="1862.96" x2="281" y2="1862.96" stroke="#000" stroke-width="5.8"/>
<text transform="translate(264 1874.76) scale(0.7800 1)" font-size="33" fill="#000" font-weight="bold" text-anchor="end" stroke="#000" stroke-width="0.35">TNF alpha</text>
<line x1="268" y1="1897.48" x2="281" y2="1897.48" stroke="#000" stroke-width="5.8"/>
<text transform="translate(264 1909.28) scale(0.7800 1)" font-size="33" fill="#000" font-weight="bold" text-anchor="end" stroke="#000" stroke-width="0.35">TNF beta</text>
<line x1="268" y1="1931.99" x2="281" y2="1931.99" stroke="#000" stroke-width="5.8"/>
<text transform="translate(264 1943.79) scale(0.7800 1)" font-size="33" fill="#000" font-weight="bold" text-anchor="end" stroke="#000" stroke-width="0.35">TNF-RII</text>
<line x1="268" y1="1966.5" x2="281" y2="1966.5" stroke="#000" stroke-width="5.8"/>
<text transform="translate(264 1978.3) scale(0.7800 1)" font-size="33" fill="#000" font-weight="bold" text-anchor="end" stroke="#000" stroke-width="0.35">TRAIL</text>
<line x1="268" y1="2001.02" x2="281" y2="2001.02" stroke="#000" stroke-width="5.8"/>
<text transform="translate(264 2012.82) scale(0.7800 1)" font-size="33" fill="#000" font-weight="bold" text-anchor="end" stroke="#000" stroke-width="0.35">TSLP</text>
<line x1="268" y1="2035.53" x2="281" y2="2035.53" stroke="#000" stroke-width="5.8"/>
<text transform="translate(264 2047.33) scale(0.7800 1)" font-size="33" fill="#000" font-weight="bold" text-anchor="end" stroke="#000" stroke-width="0.35">TWEAK</text>
<line x1="268" y1="2070.04" x2="281" y2="2070.04" stroke="#000" stroke-width="5.8"/>
<text transform="translate(264 2081.84) scale(0.7800 1)" font-size="33" fill="#000" font-weight="bold" text-anchor="end" stroke="#000" stroke-width="0.35">VEGF-A</text>
<line x1="336.34" y1="2089" x2="336.34" y2="2100.5" stroke="#000" stroke-width="5"/>
<text transform="translate(349.34 2128) scale(0.88 1) rotate(-45)" font-size="35.3" font-weight="bold" text-anchor="end" stroke="#000" stroke-width="0.5">Multi-organ Day 2</text>
<line x1="442.83" y1="2089" x2="442.83" y2="2107" stroke="#000" stroke-width="5"/>
<text transform="translate(461.83 2133) scale(0.88 1) rotate(-45)" font-size="35.3" font-weight="bold" text-anchor="end" stroke="#000" stroke-width="0.5">Multi-organ Day 12</text>
<line x1="549.32" y1="2089" x2="549.32" y2="2107" stroke="#000" stroke-width="5"/>
<text transform="translate(575.32 2134) scale(0.88 1) rotate(-45)" font-size="35.3" font-weight="bold" text-anchor="end" stroke="#000" stroke-width="0.5">Multi-organ Day 28</text>
<line x1="655.81" y1="2089" x2="655.81" y2="2107" stroke="#000" stroke-width="5"/>
<text transform="translate(661.81 2142) scale(0.71 1) rotate(-45)" font-size="37" text-anchor="end" stroke="#000" stroke-width="1.3">Mixed Day 2</text>
<line x1="762.3" y1="2089" x2="762.3" y2="2107" stroke="#000" stroke-width="5"/>
<text transform="translate(768.3 2142) scale(0.71 1) rotate(-45)" font-size="37" text-anchor="end" stroke="#000" stroke-width="1.3">Mixed Day 12</text>
<line x1="868.79" y1="2089" x2="868.79" y2="2107" stroke="#000" stroke-width="5"/>
<text transform="translate(874.79 2142) scale(0.71 1) rotate(-45)" font-size="37" text-anchor="end" stroke="#000" stroke-width="1.3">Mixed Day 28</text>
<line x1="975.28" y1="2089" x2="975.28" y2="2107" stroke="#000" stroke-width="5"/>
<text transform="translate(981.28 2142) scale(0.71 1) rotate(-45)" font-size="37" text-anchor="end" stroke="#000" stroke-width="1.3">Isolated Day 2</text>
<line x1="1081.77" y1="2089" x2="1081.77" y2="2107" stroke="#000" stroke-width="5"/>
<text transform="translate(1087.77 2142) scale(0.71 1) rotate(-45)" font-size="37" text-anchor="end" stroke="#000" stroke-width="1.3">Isolated Day 12</text>
<line x1="1188.26" y1="2089" x2="1188.26" y2="2107" stroke="#000" stroke-width="5"/>
<text transform="translate(1194.26 2142) scale(0.71 1) rotate(-45)" font-size="37" text-anchor="end" stroke="#000" stroke-width="1.3">Isolated Day 28</text>
<text transform="translate(24 81.5)" font-size="61" fill="#000" font-weight="bold">a</text>
<text transform="translate(1432 80)" font-size="63" fill="#000" font-weight="bold">b</text>
<defs><linearGradient id="pl" x1="0" y1="1" x2="0" y2="0">
<stop offset="0.0000" stop-color="#0d0887"/>
<stop offset="0.0196" stop-color="#1b068d"/>
<stop offset="0.0392" stop-color="#260591"/>
<stop offset="0.0588" stop-color="#2f0596"/>
<stop offset="0.0784" stop-color="#38049a"/>
<stop offset="0.0980" stop-color="#41049d"/>
<stop offset="0.1176" stop-color="#4903a0"/>
<stop offset="0.1373" stop-color="#5102a3"/>
<stop offset="0.1569" stop-color="#5901a5"/>
<stop offset="0.1765" stop-color="#6100a7"/>
<stop offset="0.1961" stop-color="#6900a8"/>
<stop offset="0.2157" stop-color="#7100a8"/>
<stop offset="0.2353" stop-color="#7801a8"/>
<stop offset="0.2549" stop-color="#8004a8"/>
<stop offset="0.2745" stop-color="#8707a6"/>
<stop offset="0.2941" stop-color="#8e0ca4"/>
<stop offset="0.3137" stop-color="#9511a1"/>
<stop offset="0.3333" stop-color="#9c179e"/>
<stop offset="0.3529" stop-color="#a21d9a"/>
<stop offset="0.3725" stop-color="#a82296"/>
<stop offset="0.3922" stop-color="#ae2892"/>
<stop offset="0.4118" stop-color="#b42e8d"/>
<stop offset="0.4314" stop-color="#ba3388"/>
<stop offset="0.4510" stop-color="#bf3984"/>
<stop offset="0.4706" stop-color="#c43e7f"/>
<stop offset="0.4902" stop-color="#c9447a"/>
<stop offset="0.5098" stop-color="#cd4a76"/>
<stop offset="0.5294" stop-color="#d24f71"/>
<stop offset="0.5490" stop-color="#d6556d"/>
<stop offset="0.5686" stop-color="#da5b69"/>
<stop offset="0.5882" stop-color="#de6164"/>
<stop offset="0.6078" stop-color="#e26660"/>
<stop offset="0.6275" stop-color="#e66c5c"/>
<stop offset="0.6471" stop-color="#e97257"/>
<stop offset="0.6667" stop-color="#ed7953"/>
<stop offset="0.6863" stop-color="#f07f4f"/>
<stop offset="0.7059" stop-color="#f3854b"/>
<stop offset="0.7255" stop-color="#f58c46"/>
<stop offset="0.7451" stop-color="#f79342"/>
<stop offset="0.7647" stop-color="#f99a3e"/>
<stop offset="0.7843" stop-color="#fba139"/>
<stop offset="0.8039" stop-color="#fca835"/>
<stop offset="0.8235" stop-color="#fdaf31"/>
<stop offset="0.8431" stop-color="#feb72d"/>
<stop offset="0.8627" stop-color="#febe2a"/>
<stop offset="0.8824" stop-color="#fdc627"/>
<stop offset="0.9020" stop-color="#fcce25"/>
<stop offset="0.9216" stop-color="#fbd724"/>
<stop offset="0.9412" stop-color="#f8df25"/>
<stop offset="0.9608" stop-color="#f6e826"/>
<stop offset="0.9804" stop-color="#f3f027"/>
<stop offset="1.0000" stop-color="#f0f921"/>
</linearGradient></defs>
<rect x="1281.5" y="51.5" width="40" height="2036.5" fill="url(#pl)" stroke="#0a0208" stroke-width="3.2"/>
<line x1="1281.5" y1="200.5" x2="1288.5" y2="200.5" stroke="#1a0810" stroke-width="3.2"/>
<line x1="1314.5" y1="200.5" x2="1321.5" y2="200.5" stroke="#1a0810" stroke-width="3.2"/>
<text transform="translate(1334.5 212.5) scale(0.7000 1)" font-size="35.5" fill="#000" stroke="#000" stroke-width="0.4">4</text>
<line x1="1281.5" y1="661.5" x2="1288.5" y2="661.5" stroke="#1a0810" stroke-width="3.2"/>
<line x1="1314.5" y1="661.5" x2="1321.5" y2="661.5" stroke="#1a0810" stroke-width="3.2"/>
<text transform="translate(1334.5 673.5) scale(0.7000 1)" font-size="35.5" fill="#000" stroke="#000" stroke-width="0.4">3</text>
<line x1="1281.5" y1="1123" x2="1288.5" y2="1123" stroke="#1a0810" stroke-width="3.2"/>
<line x1="1314.5" y1="1123" x2="1321.5" y2="1123" stroke="#1a0810" stroke-width="3.2"/>
<text transform="translate(1334.5 1135) scale(0.7000 1)" font-size="35.5" fill="#000" stroke="#000" stroke-width="0.4">2</text>
<line x1="1281.5" y1="1584" x2="1288.5" y2="1584" stroke="#1a0810" stroke-width="3.2"/>
<line x1="1314.5" y1="1584" x2="1321.5" y2="1584" stroke="#1a0810" stroke-width="3.2"/>
<text transform="translate(1334.5 1596) scale(0.7000 1)" font-size="35.5" fill="#000" stroke="#000" stroke-width="0.4">1</text>
<line x1="1281.5" y1="2045.5" x2="1288.5" y2="2045.5" stroke="#1a0810" stroke-width="3.2"/>
<line x1="1314.5" y1="2045.5" x2="1321.5" y2="2045.5" stroke="#1a0810" stroke-width="3.2"/>
<text transform="translate(1334.5 2057.5) scale(0.7000 1)" font-size="35.5" fill="#000" stroke="#000" stroke-width="0.4">0</text>
<text transform="translate(1374 1107.5) rotate(90)" font-size="41.4" fill="#000" text-anchor="middle" id="cbl">Log(Concentration [pg/mL])</text>
<circle cx="1627.6" cy="19.6" r="7.4" fill="#ac1018"/>
<text x="1664" y="30.7" font-size="33" fill="#9c0c10" font-weight="bold" textLength="279.5" lengthAdjust="spacingAndGlyphs">Multi-organ Day 2</text>
<circle cx="1627.6" cy="55.7" r="7.4" fill="#f04848"/>
<text x="1664" y="66.7" font-size="33" fill="#ee4a50" font-weight="bold" textLength="298.5" lengthAdjust="spacingAndGlyphs">Multi-organ Day 12</text>
<circle cx="1627.6" cy="93" r="7.4" fill="#f8a8ac"/>
<text x="1664" y="104.5" font-size="33" fill="#f6a8ac" stroke="#f6a8ac" stroke-width="0.7" textLength="298.5" lengthAdjust="spacingAndGlyphs">Multi-organ Day 28</text>
<circle cx="1627.6" cy="130" r="7.4" fill="#10107c"/>
<text x="1664" y="140.5" font-size="33" fill="#14147c" stroke="#14147c" stroke-width="1.6" stroke-linejoin="round" textLength="189" lengthAdjust="spacingAndGlyphs">Mixed Day 2</text>
<circle cx="1627.6" cy="167.5" r="7.4" fill="#1818e0"/>
<text x="1664" y="178.5" font-size="33" fill="#1414d0" stroke="#1414d0" stroke-width="1.6" stroke-linejoin="round" textLength="208" lengthAdjust="spacingAndGlyphs">Mixed Day 12</text>
<circle cx="1627.6" cy="203" r="7.4" fill="#a4c8f4"/>
<text x="1664" y="213.8" font-size="33" fill="#a4c8f4" stroke="#a4c8f4" stroke-width="0.7" textLength="207" lengthAdjust="spacingAndGlyphs">Mixed Day 28</text>
<circle cx="1627.6" cy="240" r="7.4" fill="#186020"/>
<text x="1664" y="250.7" font-size="33" fill="#186848" stroke="#186848" stroke-width="1.6" stroke-linejoin="round" textLength="220.5" lengthAdjust="spacingAndGlyphs">Isolated Day 2</text>
<circle cx="1627.6" cy="277" r="7.4" fill="#20c028"/>
<text x="1664" y="287" font-size="33" fill="#1cc02c" stroke="#1cc02c" stroke-width="1.6" stroke-linejoin="round" textLength="239" lengthAdjust="spacingAndGlyphs">Isolated Day 12</text>
<circle cx="1627.6" cy="314.8" r="7.4" fill="#b8e4bc"/>
<text x="1664" y="324" font-size="33" fill="#b4e0b8" stroke="#b4e0b8" stroke-width="0.7" textLength="238" lengthAdjust="spacingAndGlyphs">Isolated Day 28</text>
<path d="M1573.17 598.53V436.11M1573.17 598.53V436.11" fill="none" stroke="#8c1414" stroke-width="2.7"/>
<line x1="1607.38" y1="598.53" x2="1607.38" y2="436.11" stroke="#8c1414" stroke-width="2.7"/>
<line x1="1571.82" y1="438.41" x2="1608.73" y2="438.41" stroke="#8c1414" stroke-width="4.6"/>
<path d="M1630.68 598.53V461.21M1630.68 598.53V461.21" fill="none" stroke="#e84848" stroke-width="3.3"/>
<line x1="1663.8" y1="598.53" x2="1663.8" y2="461.21" stroke="#e84848" stroke-width="4.3"/>
<line x1="1629.03" y1="463.06" x2="1665.95" y2="463.06" stroke="#e84848" stroke-width="3.7"/>
<path d="M1687.61 598.53V439.8M1687.61 598.53V439.8" fill="none" stroke="#f4a4a8" stroke-width="4.2"/>
<line x1="1721.8" y1="598.53" x2="1721.8" y2="439.8" stroke="#f4a4a8" stroke-width="4.2"/>
<line x1="1685.51" y1="442.05" x2="1723.9" y2="442.05" stroke="#f4a4a8" stroke-width="4.5"/>
<path d="M1745.94 598.53V461.95M1745.94 598.53V461.95" fill="none" stroke="#10107c" stroke-width="4.2"/>
<line x1="1777.54" y1="598.53" x2="1777.54" y2="461.95" stroke="#10107c" stroke-width="4.2"/>
<line x1="1743.84" y1="464.3" x2="1779.64" y2="464.3" stroke="#10107c" stroke-width="4.7"/>
<path d="M1803.52 598.53V524.71M1803.52 598.53V524.71" fill="none" stroke="#1414d0" stroke-width="4.2"/>
<line x1="1835.5" y1="598.53" x2="1835.5" y2="524.71" stroke="#1414d0" stroke-width="4.2"/>
<line x1="1801.42" y1="526.96" x2="1837.6" y2="526.96" stroke="#1414d0" stroke-width="4.5"/>
<path d="M1860.41 598.53V475.98M1860.41 598.53V475.98" fill="none" stroke="#a4c4f0" stroke-width="2.8"/>
<line x1="1894.52" y1="598.53" x2="1894.52" y2="475.98" stroke="#a4c4f0" stroke-width="2.8"/>
<line x1="1859.01" y1="477.38" x2="1895.92" y2="477.38" stroke="#a4c4f0" stroke-width="2.8"/>
<path d="M1918.83 598.53V395.51M1918.83 598.53V395.51" fill="none" stroke="#185c1c" stroke-width="3"/>
<line x1="1952.01" y1="598.53" x2="1952.01" y2="395.51" stroke="#185c1c" stroke-width="3"/>
<line x1="1917.33" y1="397.01" x2="1953.51" y2="397.01" stroke="#185c1c" stroke-width="3"/>
<path d="M1976.42 598.53V533.94M1976.42 598.53V533.94" fill="none" stroke="#20b428" stroke-width="3"/>
<line x1="2008.99" y1="598.53" x2="2008.99" y2="533.94" stroke="#20b428" stroke-width="4.2"/>
<line x1="1974.92" y1="535.44" x2="2011.09" y2="535.44" stroke="#20b428" stroke-width="3"/>
<path d="M2034.4 598.53V513.63M2034.4 598.53V513.63" fill="none" stroke="#b4e0b8" stroke-width="3.8"/>
<line x1="2066.78" y1="598.53" x2="2066.78" y2="513.63" stroke="#b4e0b8" stroke-width="3.8"/>
<line x1="2032.5" y1="515.53" x2="2068.68" y2="515.53" stroke="#b4e0b8" stroke-width="3.8"/>
<path d="M1580.03 380H1599.03M1589.53 380V492.59M1580.03 492.59H1599.03" fill="none" stroke="#6e3838" stroke-width="1.7"/>
<path d="M1637.99 449.77H1656.99M1647.49 449.77V471.18M1637.99 471.18H1656.99" fill="none" stroke="#c47070" stroke-width="1.7"/>
<path d="M1695.21 405.84H1714.21M1704.71 405.84V472.29M1695.21 472.29H1714.21" fill="none" stroke="#deb0b4" stroke-width="1.7"/>
<path d="M1753.16 406.58H1772.16M1762.66 406.58V514.74M1753.16 514.74H1772.16" fill="none" stroke="#6464a8" stroke-width="1.7"/>
<path d="M1810.38 450.88H1829.38M1819.88 450.88V596.69M1810.38 596.69H1829.38" fill="none" stroke="#5c5ccc" stroke-width="1.7"/>
<path d="M1867.96 447.19H1886.96M1877.46 447.19V503.3M1867.96 503.3H1886.96" fill="none" stroke="#a8b8d6" stroke-width="1.7"/>
<path d="M1925.92 359.7H1944.92M1935.42 359.7V428.73M1925.92 428.73H1944.92" fill="none" stroke="#4a704a" stroke-width="1.7"/>
<path d="M1983.14 495.91H2002.14M1992.64 495.91V568.27M1983.14 568.27H2002.14" fill="none" stroke="#78b080" stroke-width="1.7"/>
<circle cx="1589.53" cy="349.37" r="6.2" fill="#ac1018"/>
<circle cx="1589.53" cy="412.86" r="6.2" fill="#ac1018"/>
<circle cx="1589.53" cy="458.26" r="6.2" fill="#ac1018"/>
<circle cx="1575.51" cy="484.1" r="6.2" fill="#ac1018"/>
<circle cx="1603.19" cy="479.3" r="6.2" fill="#ac1018"/>
<circle cx="1647.49" cy="445.34" r="6.2" fill="#f04848"/>
<circle cx="1633.46" cy="457.52" r="6.2" fill="#f04848"/>
<circle cx="1647.49" cy="458.26" r="6.2" fill="#f04848"/>
<circle cx="1660.41" cy="465.64" r="6.2" fill="#f04848"/>
<circle cx="1633.46" cy="474.87" r="6.2" fill="#f04848"/>
<circle cx="1704.71" cy="389.23" r="6.2" fill="#f8a8ac"/>
<circle cx="1704.71" cy="423.93" r="6.2" fill="#f8a8ac"/>
<circle cx="1691.79" cy="449.77" r="6.2" fill="#f8a8ac"/>
<circle cx="1717.63" cy="458.26" r="6.2" fill="#f8a8ac"/>
<circle cx="1704.71" cy="473.03" r="6.2" fill="#f8a8ac"/>
<circle cx="1762.66" cy="402.89" r="6.2" fill="#10107c"/>
<circle cx="1762.66" cy="468.23" r="6.2" fill="#10107c"/>
<circle cx="1762.66" cy="511.79" r="6.2" fill="#10107c"/>
<circle cx="1819.88" cy="473.03" r="6.2" fill="#1818e0"/>
<circle cx="1819.88" cy="575.65" r="6.2" fill="#1818e0"/>
<circle cx="1877.46" cy="451.62" r="6.2" fill="#a4c8f4"/>
<circle cx="1877.46" cy="468.23" r="6.2" fill="#a4c8f4"/>
<circle cx="1877.46" cy="505.51" r="6.2" fill="#a4c8f4"/>
<circle cx="1935.42" cy="363.02" r="6.2" fill="#186020"/>
<circle cx="1935.42" cy="389.23" r="6.2" fill="#186020"/>
<circle cx="1935.42" cy="429.84" r="6.2" fill="#186020"/>
<circle cx="1992.64" cy="490.75" r="6.2" fill="#20c028"/>
<circle cx="1978.98" cy="557.93" r="6.2" fill="#20c028"/>
<circle cx="2006.29" cy="549.44" r="6.2" fill="#20c028"/>
<circle cx="2036.93" cy="513.63" r="6.2" fill="#b8e4bc"/>
<circle cx="2063.51" cy="512.89" r="6.2" fill="#b8e4bc"/>
<path d="M1550.41 306.42V598.53H2089.35" fill="none" stroke="#000" stroke-width="3.2" stroke-linejoin="miter"/>
<line x1="1540.44" y1="598.53" x2="1550.41" y2="598.53" stroke="#000" stroke-width="3.2"/>
<line x1="1819.14" y1="598.53" x2="1819.14" y2="611.45" stroke="#000" stroke-width="3.2"/>
<line x1="1540.44" y1="308.02" x2="1550.41" y2="308.02" stroke="#000" stroke-width="3.2"/>
<text transform="translate(1534.84 316.22) scale(0.8200 1)" font-size="23.5" fill="#000" font-weight="bold" text-anchor="end">50</text>
<line x1="1540.44" y1="366.71" x2="1550.41" y2="366.71" stroke="#000" stroke-width="3.2"/>
<text transform="translate(1534.84 374.91) scale(0.8200 1)" font-size="23.5" fill="#000" font-weight="bold" text-anchor="end">40</text>
<line x1="1540.44" y1="425.41" x2="1550.41" y2="425.41" stroke="#000" stroke-width="3.2"/>
<text transform="translate(1534.84 433.61) scale(0.8200 1)" font-size="23.5" fill="#000" font-weight="bold" text-anchor="end">30</text>
<line x1="1540.44" y1="483.36" x2="1550.41" y2="483.36" stroke="#000" stroke-width="3.2"/>
<text transform="translate(1534.84 491.56) scale(0.8200 1)" font-size="23.5" fill="#000" font-weight="bold" text-anchor="end">20</text>
<line x1="1540.44" y1="541.32" x2="1550.41" y2="541.32" stroke="#000" stroke-width="3.2"/>
<text transform="translate(1534.84 549.52) scale(0.8200 1)" font-size="23.5" fill="#000" font-weight="bold" text-anchor="end">10</text>
<line x1="1540.44" y1="598.53" x2="1550.41" y2="598.53" stroke="#000" stroke-width="3.2"/>
<text transform="translate(1534.84 606.73) scale(0.8200 1)" font-size="23.5" fill="#000" font-weight="bold" text-anchor="end">0</text>
<text transform="translate(1499.45 452.72) rotate(-90)" font-size="22.6" fill="#000" font-weight="bold" text-anchor="middle" textLength="255" lengthAdjust="spacingAndGlyphs">Concentration [pg/mL]</text>
<text transform="translate(1819.14 640.25) scale(0.9800 1)" font-size="26.5" fill="#000" font-weight="bold" text-anchor="middle">IFN alpha</text>
<path d="M1935.42 341.98V315.04H1992.64V473.03" fill="none" stroke="#000" stroke-width="2.7"/>
<text transform="translate(1962.37 299.29) scale(0.9200 1)" font-size="23.8" fill="#000" text-anchor="middle">0.0081</text>
<path d="M1568.78 1060.18V915.48M1568.78 1060.18V915.48" fill="none" stroke="#8c1414" stroke-width="5"/>
<line x1="1602.54" y1="1060.18" x2="1602.54" y2="915.48" stroke="#8c1414" stroke-width="5"/>
<line x1="1566.28" y1="917.73" x2="1605.04" y2="917.73" stroke="#8c1414" stroke-width="4.5"/>
<path d="M1626.84 1060.18V945.01M1626.84 1060.18V945.01" fill="none" stroke="#e84848" stroke-width="3"/>
<line x1="1661.85" y1="1060.18" x2="1661.85" y2="945.01" stroke="#e84848" stroke-width="4.5"/>
<line x1="1625.34" y1="947.01" x2="1664.1" y2="947.01" stroke="#e84848" stroke-width="4"/>
<path d="M1685.55 1060.18V945.01M1685.55 1060.18V945.01" fill="none" stroke="#f4a4a8" stroke-width="4.5"/>
<line x1="1721.13" y1="1060.18" x2="1721.13" y2="945.01" stroke="#f4a4a8" stroke-width="2.6"/>
<line x1="1683.3" y1="946.81" x2="1722.43" y2="946.81" stroke="#f4a4a8" stroke-width="3.6"/>
<path d="M1745.97 1060.18V906.25M1745.97 1060.18V906.25" fill="none" stroke="#10107c" stroke-width="5"/>
<line x1="1778.62" y1="1060.18" x2="1778.62" y2="906.25" stroke="#10107c" stroke-width="5"/>
<line x1="1743.47" y1="908.75" x2="1781.12" y2="908.75" stroke="#10107c" stroke-width="5"/>
<path d="M1804.33 1060.18V981.92M1804.33 1060.18V981.92" fill="none" stroke="#1414d0" stroke-width="3.6"/>
<line x1="1838.75" y1="1060.18" x2="1838.75" y2="981.92" stroke="#1414d0" stroke-width="3.6"/>
<line x1="1802.53" y1="984.17" x2="1840.55" y2="984.17" stroke="#1414d0" stroke-width="4.5"/>
<path d="M1862.23 1060.18V963.47M1862.23 1060.18V963.47" fill="none" stroke="#a4c4f0" stroke-width="3.5"/>
<line x1="1897.12" y1="1060.18" x2="1897.12" y2="963.47" stroke="#a4c4f0" stroke-width="3.5"/>
<line x1="1860.48" y1="965.22" x2="1898.87" y2="965.22" stroke="#a4c4f0" stroke-width="3.5"/>
<path d="M1923.15 1060.18V851.62M1923.15 1060.18V851.62" fill="none" stroke="#185c1c" stroke-width="5"/>
<line x1="1955.81" y1="1060.18" x2="1955.81" y2="851.62" stroke="#185c1c" stroke-width="5"/>
<line x1="1920.65" y1="854.12" x2="1958.31" y2="854.12" stroke="#185c1c" stroke-width="5"/>
<path d="M1980.61 1060.18V994.84M1980.61 1060.18V994.84" fill="none" stroke="#20b428" stroke-width="4"/>
<line x1="2014.97" y1="1060.18" x2="2014.97" y2="994.84" stroke="#20b428" stroke-width="4.8"/>
<line x1="1978.61" y1="997.09" x2="2017.37" y2="997.09" stroke="#20b428" stroke-width="4.5"/>
<path d="M2038.68 1060.18V994.1M2038.68 1060.18V994.1" fill="none" stroke="#b4e0b8" stroke-width="3.5"/>
<line x1="2074.68" y1="1060.18" x2="2074.68" y2="994.1" stroke="#b4e0b8" stroke-width="3.5"/>
<line x1="2036.93" y1="995.85" x2="2076.43" y2="995.85" stroke="#b4e0b8" stroke-width="3.5"/>
<path d="M1576.34 905.14H1595.34M1585.84 905.14V931.35M1576.34 931.35H1595.34" fill="none" stroke="#6e3838" stroke-width="1.7"/>
<path d="M1635.41 934.67H1654.41M1644.91 934.67V959.77M1635.41 959.77H1654.41" fill="none" stroke="#c47070" stroke-width="1.7"/>
<path d="M1693.73 914.74H1712.73M1703.23 914.74V971.96M1693.73 971.96H1712.73" fill="none" stroke="#deb0b4" stroke-width="1.7"/>
<path d="M1752.79 859H1771.79M1762.29 859V951.65M1752.79 951.65H1771.79" fill="none" stroke="#6464a8" stroke-width="1.7"/>
<path d="M1811.85 967.9H1830.85M1821.35 967.9V994.84M1811.85 994.84H1830.85" fill="none" stroke="#5c5ccc" stroke-width="1.7"/>
<path d="M1870.18 933.57H1889.18M1879.68 933.57V989.68M1870.18 989.68H1889.18" fill="none" stroke="#a8b8d6" stroke-width="1.7"/>
<path d="M1929.98 828.73H1948.98M1939.48 828.73V871.18M1929.98 871.18H1948.98" fill="none" stroke="#4a704a" stroke-width="1.7"/>
<path d="M1988.67 983.77H2007.67M1998.17 983.77V1002.23M1988.67 1002.23H2007.67" fill="none" stroke="#78b080" stroke-width="1.7"/>
<path d="M2047.74 967.9H2066.74M2057.24 967.9V1017.73M2047.74 1017.73H2066.74" fill="none" stroke="#b8d0ba" stroke-width="1.7"/>
<circle cx="1585.84" cy="900.71" r="6.2" fill="#ac1018"/>
<circle cx="1571.82" cy="915.48" r="6.2" fill="#ac1018"/>
<circle cx="1599.5" cy="916.59" r="6.2" fill="#ac1018"/>
<circle cx="1585.84" cy="922.86" r="6.2" fill="#ac1018"/>
<circle cx="1585.84" cy="936.52" r="6.2" fill="#ac1018"/>
<circle cx="1644.91" cy="927.66" r="6.2" fill="#f04848"/>
<circle cx="1630.88" cy="946.85" r="6.2" fill="#f04848"/>
<circle cx="1658.56" cy="947.59" r="6.2" fill="#f04848"/>
<circle cx="1644.91" cy="949.81" r="6.2" fill="#f04848"/>
<circle cx="1644.91" cy="963.47" r="6.2" fill="#f04848"/>
<circle cx="1703.23" cy="895.18" r="6.2" fill="#f8a8ac"/>
<circle cx="1689.94" cy="949.44" r="6.2" fill="#f8a8ac"/>
<circle cx="1716.52" cy="949.44" r="6.2" fill="#f8a8ac"/>
<circle cx="1703.23" cy="953.5" r="6.2" fill="#f8a8ac"/>
<circle cx="1703.23" cy="971.96" r="6.2" fill="#f8a8ac"/>
<circle cx="1762.29" cy="853.46" r="6.2" fill="#10107c"/>
<circle cx="1762.29" cy="916.59" r="6.2" fill="#10107c"/>
<circle cx="1762.29" cy="945.01" r="6.2" fill="#10107c"/>
<circle cx="1821.35" cy="972.69" r="6.2" fill="#1818e0"/>
<circle cx="1821.35" cy="992.26" r="6.2" fill="#1818e0"/>
<circle cx="1866.02" cy="944.27" r="6.2" fill="#a4c8f4"/>
<circle cx="1894.81" cy="946.85" r="6.2" fill="#a4c8f4"/>
<circle cx="1880.05" cy="994.84" r="6.2" fill="#a4c8f4"/>
<circle cx="1939.48" cy="825.04" r="6.2" fill="#186020"/>
<circle cx="1926.19" cy="864.91" r="6.2" fill="#186020"/>
<circle cx="1952.77" cy="858.26" r="6.2" fill="#186020"/>
<circle cx="1984.15" cy="983.77" r="6.2" fill="#20c028"/>
<circle cx="2011.83" cy="994.1" r="6.2" fill="#20c028"/>
<circle cx="1984.15" cy="1002.23" r="6.2" fill="#20c028"/>
<circle cx="2043.21" cy="975.28" r="6.2" fill="#b8e4bc"/>
<circle cx="2071.26" cy="981.18" r="6.2" fill="#b8e4bc"/>
<circle cx="2057.24" cy="1022.53" r="6.2" fill="#b8e4bc"/>
<path d="M1545.98 758.44V1060.18H2096.73" fill="none" stroke="#000" stroke-width="4" stroke-linejoin="miter"/>
<line x1="1534.9" y1="1060.18" x2="1545.98" y2="1060.18" stroke="#000" stroke-width="4"/>
<line x1="1820.99" y1="1060.18" x2="1820.99" y2="1074.21" stroke="#000" stroke-width="4"/>
<line x1="1534.9" y1="760.44" x2="1545.98" y2="760.44" stroke="#000" stroke-width="4"/>
<text transform="translate(1529.67 768.64) scale(0.8200 1)" font-size="23.5" fill="#000" font-weight="bold" text-anchor="end">100</text>
<line x1="1534.9" y1="820.61" x2="1545.98" y2="820.61" stroke="#000" stroke-width="4"/>
<text transform="translate(1529.67 828.81) scale(0.8200 1)" font-size="23.5" fill="#000" font-weight="bold" text-anchor="end">80</text>
<line x1="1534.9" y1="881.15" x2="1545.98" y2="881.15" stroke="#000" stroke-width="4"/>
<text transform="translate(1529.67 889.35) scale(0.8200 1)" font-size="23.5" fill="#000" font-weight="bold" text-anchor="end">60</text>
<line x1="1534.9" y1="941.32" x2="1545.98" y2="941.32" stroke="#000" stroke-width="4"/>
<text transform="translate(1529.67 949.52) scale(0.8200 1)" font-size="23.5" fill="#000" font-weight="bold" text-anchor="end">40</text>
<line x1="1534.9" y1="1001.12" x2="1545.98" y2="1001.12" stroke="#000" stroke-width="4"/>
<text transform="translate(1529.67 1009.32) scale(0.8200 1)" font-size="23.5" fill="#000" font-weight="bold" text-anchor="end">20</text>
<line x1="1534.9" y1="1060.18" x2="1545.98" y2="1060.18" stroke="#000" stroke-width="4"/>
<text transform="translate(1529.67 1068.38) scale(0.8200 1)" font-size="23.5" fill="#000" font-weight="bold" text-anchor="end">0</text>
<text transform="translate(1482.84 909.94) rotate(-90)" font-size="22.6" fill="#000" font-weight="bold" text-anchor="middle" textLength="262" lengthAdjust="spacingAndGlyphs">Concentration [pg/mL]</text>
<text transform="translate(1820.25 1101.89) scale(0.9800 1)" font-size="26.5" fill="#000" font-weight="bold" text-anchor="middle">IL-1 alpha</text>
<path d="M1585.84 883.36V726.11H1934.31V743.83" fill="none" stroke="#000" stroke-width="2.8"/>
<text transform="translate(1758.23 710.37) scale(0.9200 1)" font-size="23.8" fill="#000" text-anchor="middle">0.0137</text>
<path d="M1943.91 743.83V726.11H2057.24V948.7" fill="none" stroke="#000" stroke-width="2.8"/>
<text transform="translate(2000.02 710.37) scale(0.9200 1)" font-size="23.8" fill="#000" text-anchor="middle">&lt;0.0001</text>
<path d="M1761.92 836.11V789.97H1822.09V950.55" fill="none" stroke="#000" stroke-width="3"/>
<text transform="translate(1789.61 773.86) scale(0.9200 1)" font-size="23.8" fill="#000" text-anchor="middle">0.0391</text>
<path d="M1939.11 806.58V789.97H1997.43V965.31" fill="none" stroke="#000" stroke-width="2.8"/>
<text transform="translate(1966.8 773.86) scale(0.9200 1)" font-size="23.8" fill="#000" text-anchor="middle">&lt;0.0001</text>
<path d="M1577.02 1534.17V1341.48M1577.02 1534.17V1341.48" fill="none" stroke="#8c1414" stroke-width="4.5"/>
<line x1="1610.91" y1="1534.17" x2="1610.91" y2="1341.48" stroke="#8c1414" stroke-width="4.5"/>
<line x1="1574.77" y1="1343.73" x2="1613.16" y2="1343.73" stroke="#8c1414" stroke-width="4.5"/>
<path d="M1635.21 1534.17V1396.85M1635.21 1534.17V1396.85" fill="none" stroke="#e84848" stroke-width="3.5"/>
<line x1="1669.73" y1="1534.17" x2="1669.73" y2="1396.85" stroke="#e84848" stroke-width="3.5"/>
<line x1="1633.46" y1="1398.6" x2="1671.48" y2="1398.6" stroke="#e84848" stroke-width="3.5"/>
<path d="M1693.29 1534.17V1359.2M1693.29 1534.17V1359.2" fill="none" stroke="#f4a4a8" stroke-width="3"/>
<line x1="1727.94" y1="1534.17" x2="1727.94" y2="1359.2" stroke="#f4a4a8" stroke-width="3"/>
<line x1="1691.79" y1="1360.8" x2="1729.44" y2="1360.8" stroke="#f4a4a8" stroke-width="3.2"/>
<path d="M1751.49 1534.17V1349.61M1751.49 1534.17V1349.61" fill="none" stroke="#10107c" stroke-width="3.5"/>
<line x1="1784.91" y1="1534.17" x2="1784.91" y2="1349.61" stroke="#10107c" stroke-width="3.5"/>
<line x1="1749.74" y1="1351.51" x2="1786.66" y2="1351.51" stroke="#10107c" stroke-width="3.8"/>
<path d="M1809.33 1534.17V1439.31M1809.33 1534.17V1439.31" fill="none" stroke="#1414d0" stroke-width="4"/>
<line x1="1843.72" y1="1534.17" x2="1843.72" y2="1439.31" stroke="#1414d0" stroke-width="4"/>
<line x1="1807.33" y1="1441.31" x2="1845.72" y2="1441.31" stroke="#1414d0" stroke-width="4"/>
<path d="M1868.27 1534.17V1421.96M1868.27 1534.17V1421.96" fill="none" stroke="#a4c4f0" stroke-width="4.5"/>
<line x1="1901.79" y1="1534.17" x2="1901.79" y2="1421.96" stroke="#a4c4f0" stroke-width="4.5"/>
<line x1="1866.02" y1="1424.21" x2="1904.04" y2="1424.21" stroke="#a4c4f0" stroke-width="4.5"/>
<path d="M1926.11 1534.17V1346.28M1926.11 1534.17V1346.28" fill="none" stroke="#185c1c" stroke-width="5"/>
<line x1="1959.5" y1="1534.17" x2="1959.5" y2="1346.28" stroke="#185c1c" stroke-width="5"/>
<line x1="1923.61" y1="1348.78" x2="1962" y2="1348.78" stroke="#185c1c" stroke-width="5"/>
<path d="M1984.3 1534.17V1468.84M1984.3 1534.17V1468.84" fill="none" stroke="#20b428" stroke-width="4"/>
<line x1="2018.32" y1="1534.17" x2="2018.32" y2="1468.84" stroke="#20b428" stroke-width="4"/>
<line x1="1982.3" y1="1470.94" x2="2020.32" y2="1470.94" stroke="#20b428" stroke-width="4.2"/>
<path d="M2042.12 1534.17V1462.56M2042.12 1534.17V1462.56" fill="none" stroke="#b4e0b8" stroke-width="3"/>
<line x1="2076.04" y1="1534.17" x2="2076.04" y2="1462.56" stroke="#b4e0b8" stroke-width="3"/>
<line x1="2040.62" y1="1464.06" x2="2077.54" y2="1464.06" stroke="#b4e0b8" stroke-width="3"/>
<path d="M1584.46 1323.03H1603.46M1593.96 1323.03V1358.1M1584.46 1358.1H1603.46" fill="none" stroke="#6e3838" stroke-width="1.7"/>
<path d="M1642.79 1372.86H1661.79M1652.29 1372.86V1419M1642.79 1419H1661.79" fill="none" stroke="#c47070" stroke-width="1.7"/>
<path d="M1701.11 1325.61H1720.11M1710.61 1325.61V1389.47M1701.11 1389.47H1720.11" fill="none" stroke="#deb0b4" stroke-width="1.7"/>
<path d="M1758.7 1332.26H1777.7M1768.2 1332.26V1366.22M1758.7 1366.22H1777.7" fill="none" stroke="#6464a8" stroke-width="1.7"/>
<path d="M1817.02 1414.2H1836.02M1826.52 1414.2V1462.56M1817.02 1462.56H1836.02" fill="none" stroke="#5c5ccc" stroke-width="1.7"/>
<path d="M1875.35 1377.66H1894.35M1884.85 1377.66V1464.04M1875.35 1464.04H1894.35" fill="none" stroke="#a8b8d6" stroke-width="1.7"/>
<path d="M1933.3 1332.26H1952.3M1942.8 1332.26V1359.94M1933.3 1359.94H1952.3" fill="none" stroke="#4a704a" stroke-width="1.7"/>
<path d="M1991.63 1451.12H2010.63M2001.13 1451.12V1483.6M1991.63 1483.6H2010.63" fill="none" stroke="#78b080" stroke-width="1.7"/>
<path d="M2049.58 1407.93H2068.58M2059.08 1407.93V1514.98M2049.58 1514.98H2068.58" fill="none" stroke="#b8d0ba" stroke-width="1.7"/>
<circle cx="1580.31" cy="1322.29" r="6.2" fill="#ac1018"/>
<circle cx="1607.99" cy="1325.61" r="6.2" fill="#ac1018"/>
<circle cx="1593.96" cy="1338.53" r="6.2" fill="#ac1018"/>
<circle cx="1607.99" cy="1355.14" r="6.2" fill="#ac1018"/>
<circle cx="1580.31" cy="1360.68" r="6.2" fill="#ac1018"/>
<circle cx="1638.26" cy="1373.97" r="6.2" fill="#f04848"/>
<circle cx="1665.95" cy="1382.09" r="6.2" fill="#f04848"/>
<circle cx="1638.26" cy="1394.27" r="6.2" fill="#f04848"/>
<circle cx="1665.95" cy="1395.01" r="6.2" fill="#f04848"/>
<circle cx="1652.29" cy="1434.51" r="6.2" fill="#f04848"/>
<circle cx="1710.61" cy="1303.83" r="6.2" fill="#f8a8ac"/>
<circle cx="1696.59" cy="1359.94" r="6.2" fill="#f8a8ac"/>
<circle cx="1723.9" cy="1359.2" r="6.2" fill="#f8a8ac"/>
<circle cx="1723.9" cy="1378.4" r="6.2" fill="#f8a8ac"/>
<circle cx="1696.59" cy="1388.36" r="6.2" fill="#f8a8ac"/>
<circle cx="1754.54" cy="1335.95" r="6.2" fill="#10107c"/>
<circle cx="1782.23" cy="1342.59" r="6.2" fill="#10107c"/>
<circle cx="1768.2" cy="1368.43" r="6.2" fill="#10107c"/>
<circle cx="1826.52" cy="1421.96" r="6.2" fill="#1818e0"/>
<circle cx="1826.52" cy="1455.92" r="6.2" fill="#1818e0"/>
<circle cx="1884.85" cy="1391.32" r="6.2" fill="#a4c8f4"/>
<circle cx="1884.85" cy="1401.28" r="6.2" fill="#a4c8f4"/>
<circle cx="1884.85" cy="1470.68" r="6.2" fill="#a4c8f4"/>
<circle cx="1942.8" cy="1331.52" r="6.2" fill="#186020"/>
<circle cx="1942.8" cy="1345.91" r="6.2" fill="#186020"/>
<circle cx="1942.8" cy="1359.2" r="6.2" fill="#186020"/>
<circle cx="2001.13" cy="1447.8" r="6.2" fill="#20c028"/>
<circle cx="1987.1" cy="1478.8" r="6.2" fill="#20c028"/>
<circle cx="2014.05" cy="1475.11" r="6.2" fill="#20c028"/>
<circle cx="2059.08" cy="1421.96" r="6.2" fill="#b8e4bc"/>
<circle cx="2059.08" cy="1441.89" r="6.2" fill="#b8e4bc"/>
<circle cx="2059.08" cy="1521.62" r="6.2" fill="#b8e4bc"/>
<path d="M1555.2 1278.58V1534.17H2099.69" fill="none" stroke="#000" stroke-width="4" stroke-linejoin="miter"/>
<line x1="1542.28" y1="1534.17" x2="1555.2" y2="1534.17" stroke="#000" stroke-width="4"/>
<line x1="1825.78" y1="1534.17" x2="1825.78" y2="1544.51" stroke="#000" stroke-width="4"/>
<line x1="1542.28" y1="1280.58" x2="1555.2" y2="1280.58" stroke="#000" stroke-width="4"/>
<text transform="translate(1538.9 1288.78) scale(0.8200 1)" font-size="23.5" fill="#000" font-weight="bold" text-anchor="end">80</text>
<line x1="1542.28" y1="1344.44" x2="1555.2" y2="1344.44" stroke="#000" stroke-width="4"/>
<text transform="translate(1538.9 1352.64) scale(0.8200 1)" font-size="23.5" fill="#000" font-weight="bold" text-anchor="end">60</text>
<line x1="1542.28" y1="1407.93" x2="1555.2" y2="1407.93" stroke="#000" stroke-width="4"/>
<text transform="translate(1538.9 1416.13) scale(0.8200 1)" font-size="23.5" fill="#000" font-weight="bold" text-anchor="end">40</text>
<line x1="1542.28" y1="1470.68" x2="1555.2" y2="1470.68" stroke="#000" stroke-width="4"/>
<text transform="translate(1538.9 1478.88) scale(0.8200 1)" font-size="23.5" fill="#000" font-weight="bold" text-anchor="end">20</text>
<line x1="1542.28" y1="1534.17" x2="1555.2" y2="1534.17" stroke="#000" stroke-width="4"/>
<text transform="translate(1538.9 1542.37) scale(0.8200 1)" font-size="23.5" fill="#000" font-weight="bold" text-anchor="end">0</text>
<text transform="translate(1503.14 1407.93) rotate(-90)" font-size="22.6" fill="#000" font-weight="bold" text-anchor="middle" textLength="222" lengthAdjust="spacingAndGlyphs">Concentration [pg/mL]</text>
<text transform="translate(1825.78 1570.35) scale(0.9800 1)" font-size="26.5" fill="#000" font-weight="bold" text-anchor="middle">IL-2</text>
<path d="M1710.24 1289.07V1167.25H2059.08V1204.9" fill="none" stroke="#000" stroke-width="2.2"/>
<text transform="translate(1883.74 1155.57) scale(0.9200 1)" font-size="23.8" fill="#000" text-anchor="middle">0.0015</text>
<path d="M1942.8 1234.43V1220.41H2059.08V1393.16" fill="none" stroke="#000" stroke-width="2.2"/>
<text transform="translate(2000.02 1208.36) scale(0.9200 1)" font-size="23.8" fill="#000" text-anchor="middle">0.0015</text>
<path d="M1942.8 1315.64V1275.04H2000.02V1431.92" fill="none" stroke="#000" stroke-width="3.2"/>
<text transform="translate(1970.49 1261.88) scale(0.9200 1)" font-size="23.8" fill="#000" text-anchor="middle">0.0008</text>
<path d="M1589.19 1849.44V1791.48M1589.19 1849.44V1791.48" fill="none" stroke="#8c1414" stroke-width="3"/>
<line x1="1623.1" y1="1849.44" x2="1623.1" y2="1791.48" stroke="#8c1414" stroke-width="3"/>
<line x1="1587.69" y1="1793.48" x2="1624.6" y2="1793.48" stroke="#8c1414" stroke-width="4"/>
<path d="M1647.64 1849.44V1818.06M1647.64 1849.44V1818.06" fill="none" stroke="#e84848" stroke-width="4"/>
<line x1="1680.31" y1="1849.44" x2="1680.31" y2="1818.06" stroke="#e84848" stroke-width="4.5"/>
<line x1="1645.64" y1="1820.06" x2="1682.56" y2="1820.06" stroke="#e84848" stroke-width="4"/>
<path d="M1704.36 1849.44V1818.06M1704.36 1849.44V1818.06" fill="none" stroke="#f4a4a8" stroke-width="3"/>
<line x1="1737.54" y1="1849.44" x2="1737.54" y2="1818.06" stroke="#f4a4a8" stroke-width="3"/>
<line x1="1702.86" y1="1819.81" x2="1739.04" y2="1819.81" stroke="#f4a4a8" stroke-width="3.5"/>
<path d="M1762.58 1849.44V1789.64M1762.58 1849.44V1789.64" fill="none" stroke="#10107c" stroke-width="5"/>
<line x1="1793.75" y1="1849.44" x2="1793.75" y2="1789.64" stroke="#10107c" stroke-width="5"/>
<line x1="1760.08" y1="1792.14" x2="1796.25" y2="1792.14" stroke="#10107c" stroke-width="5"/>
<path d="M1820.03 1849.44V1833.94M1820.03 1849.44V1833.94" fill="none" stroke="#1414d0" stroke-width="4"/>
<line x1="1852.21" y1="1849.44" x2="1852.21" y2="1833.94" stroke="#1414d0" stroke-width="4"/>
<line x1="1818.03" y1="1836.19" x2="1854.21" y2="1836.19" stroke="#1414d0" stroke-width="4.5"/>
<path d="M1876.26 1849.44V1808.1M1876.26 1849.44V1808.1" fill="none" stroke="#a4c4f0" stroke-width="3.5"/>
<line x1="1909.67" y1="1849.44" x2="1909.67" y2="1808.1" stroke="#a4c4f0" stroke-width="3.5"/>
<line x1="1874.51" y1="1809.85" x2="1911.42" y2="1809.85" stroke="#a4c4f0" stroke-width="3.5"/>
<path d="M1933.98 1849.44V1707.32M1933.98 1849.44V1707.32" fill="none" stroke="#185c1c" stroke-width="4.5"/>
<line x1="1965.65" y1="1849.44" x2="1965.65" y2="1707.32" stroke="#185c1c" stroke-width="4.5"/>
<line x1="1931.73" y1="1709.57" x2="1967.9" y2="1709.57" stroke="#185c1c" stroke-width="4.5"/>
<path d="M1989.59 1849.44V1820.28M1989.59 1849.44V1820.28" fill="none" stroke="#20b428" stroke-width="3.5"/>
<line x1="2023" y1="1849.44" x2="2023" y2="1820.28" stroke="#20b428" stroke-width="3.5"/>
<line x1="1987.84" y1="1822.28" x2="2024.75" y2="1822.28" stroke="#20b428" stroke-width="4"/>
<path d="M2047.05 1849.44V1845.01M2047.05 1849.44V1845.01" fill="none" stroke="#b4e0b8" stroke-width="4"/>
<line x1="2079.97" y1="1849.44" x2="2079.97" y2="1845.01" stroke="#b4e0b8" stroke-width="4"/>
<line x1="2045.05" y1="1847.01" x2="2081.97" y2="1847.01" stroke="#b4e0b8" stroke-width="4"/>
<line x1="1573.66" y1="1849.44" x2="2101.53" y2="1849.44" stroke="#2a2a2a" stroke-width="2.4" stroke-dasharray="2.6 5.2"/>
<path d="M1596.65 1779.67H1615.65M1606.15 1779.67V1802.56M1596.65 1802.56H1615.65" fill="none" stroke="#6e3838" stroke-width="1.7"/>
<path d="M1654.6 1815.48H1673.6M1664.1 1815.48V1822.86M1654.6 1822.86H1673.6" fill="none" stroke="#c47070" stroke-width="1.7"/>
<path d="M1711.45 1801.82H1730.45M1720.95 1801.82V1830.24M1711.45 1830.24H1730.45" fill="none" stroke="#deb0b4" stroke-width="1.7"/>
<path d="M1768.67 1739.8H1787.67M1778.17 1739.8V1836.89M1768.67 1836.89H1787.67" fill="none" stroke="#6464a8" stroke-width="1.7"/>
<path d="M1826.62 1829.51H1845.62M1836.12 1829.51V1837.63M1826.62 1837.63H1845.62" fill="none" stroke="#5c5ccc" stroke-width="1.7"/>
<path d="M1883.47 1763.06H1902.47M1892.97 1763.06V1850.55M1883.47 1850.55H1902.47" fill="none" stroke="#a8b8d6" stroke-width="1.7"/>
<path d="M1940.32 1653.06H1959.32M1949.82 1653.06V1758.26M1940.32 1758.26H1959.32" fill="none" stroke="#4a704a" stroke-width="1.7"/>
<circle cx="1592.49" cy="1777.46" r="6.2" fill="#ac1018"/>
<circle cx="1619.8" cy="1782.26" r="6.2" fill="#ac1018"/>
<circle cx="1606.15" cy="1791.48" r="6.2" fill="#ac1018"/>
<circle cx="1592.49" cy="1803.3" r="6.2" fill="#ac1018"/>
<circle cx="1619.8" cy="1801.82" r="6.2" fill="#ac1018"/>
<circle cx="1650.07" cy="1811.79" r="6.2" fill="#f04848"/>
<circle cx="1659.67" cy="1818.06" r="6.2" fill="#f04848"/>
<circle cx="1677.76" cy="1821.02" r="6.2" fill="#f04848"/>
<circle cx="1668.53" cy="1825.44" r="6.2" fill="#f04848"/>
<circle cx="1650.07" cy="1828.4" r="6.2" fill="#f04848"/>
<circle cx="1720.95" cy="1793.33" r="6.2" fill="#f8a8ac"/>
<circle cx="1734.24" cy="1811.79" r="6.2" fill="#f8a8ac"/>
<circle cx="1720.95" cy="1822.86" r="6.2" fill="#f8a8ac"/>
<circle cx="1707.29" cy="1827.29" r="6.2" fill="#f8a8ac"/>
<circle cx="1734.24" cy="1827.29" r="6.2" fill="#f8a8ac"/>
<circle cx="1778.17" cy="1732.42" r="6.2" fill="#10107c"/>
<circle cx="1764.51" cy="1816.59" r="6.2" fill="#10107c"/>
<circle cx="1791.45" cy="1816.59" r="6.2" fill="#10107c"/>
<circle cx="1822.09" cy="1836.52" r="6.2" fill="#1818e0"/>
<circle cx="1849.41" cy="1830.24" r="6.2" fill="#1818e0"/>
<circle cx="1892.97" cy="1757.15" r="6.2" fill="#a4c8f4"/>
<circle cx="1879.31" cy="1833.2" r="6.2" fill="#a4c8f4"/>
<circle cx="1906.63" cy="1829.51" r="6.2" fill="#a4c8f4"/>
<circle cx="1936.53" cy="1673.36" r="6.2" fill="#186020"/>
<circle cx="1963.1" cy="1677.79" r="6.2" fill="#186020"/>
<circle cx="1949.82" cy="1766.75" r="6.2" fill="#186020"/>
<circle cx="2007.4" cy="1818.06" r="6.2" fill="#20c028"/>
<circle cx="2063.51" cy="1844.27" r="6.2" fill="#b8e4bc"/>
<path d="M1568.86 1633.71V1919.58H2104.12" fill="none" stroke="#000" stroke-width="4" stroke-linejoin="miter"/>
<line x1="1557.05" y1="1919.58" x2="1568.86" y2="1919.58" stroke="#000" stroke-width="4"/>
<line x1="1835.01" y1="1919.58" x2="1835.01" y2="1933.6" stroke="#000" stroke-width="4"/>
<line x1="1557.05" y1="1635.71" x2="1568.86" y2="1635.71" stroke="#000" stroke-width="4"/>
<text transform="translate(1551.82 1643.91) scale(0.8200 1)" font-size="23.5" fill="#000" font-weight="bold" text-anchor="end">600</text>
<line x1="1557.05" y1="1706.58" x2="1568.86" y2="1706.58" stroke="#000" stroke-width="4"/>
<text transform="translate(1551.82 1714.78) scale(0.8200 1)" font-size="23.5" fill="#000" font-weight="bold" text-anchor="end">400</text>
<line x1="1557.05" y1="1777.46" x2="1568.86" y2="1777.46" stroke="#000" stroke-width="4"/>
<text transform="translate(1551.82 1785.66) scale(0.8200 1)" font-size="23.5" fill="#000" font-weight="bold" text-anchor="end">200</text>
<line x1="1557.05" y1="1849.44" x2="1568.86" y2="1849.44" stroke="#000" stroke-width="4"/>
<text transform="translate(1551.82 1857.64) scale(0.8200 1)" font-size="23.5" fill="#000" font-weight="bold" text-anchor="end">0</text>
<line x1="1557.05" y1="1919.58" x2="1568.86" y2="1919.58" stroke="#000" stroke-width="4"/>
<text transform="translate(1551.82 1927.78) scale(0.8200 1)" font-size="23.5" fill="#000" font-weight="bold" text-anchor="end">-200</text>
<text transform="translate(1498.34 1776.72) rotate(-90)" font-size="22.6" fill="#000" font-weight="bold" text-anchor="middle" textLength="252" lengthAdjust="spacingAndGlyphs">Concentration [pg/mL]</text>
<text transform="translate(1833.91 1960.55) scale(0.9800 1)" font-size="26.5" fill="#000" font-weight="bold" text-anchor="middle">GM-CSF</text>
<path d="M1606.15 1760.11V1618.73H1944.65V1637.18" fill="none" stroke="#000" stroke-width="1.8"/>
<text transform="translate(1774.1 1605.57) scale(0.9200 1)" font-size="23.8" fill="#000" text-anchor="middle">0.0138</text>
<path d="M1954.61 1637.18V1618.73H2064.62V1826.55" fill="none" stroke="#000" stroke-width="1.8"/>
<text transform="translate(2008.14 1605.57) scale(0.9200 1)" font-size="23.8" fill="#000" text-anchor="middle">0.0114</text>
<path d="M1596.3 2358.37V2277.16M1596.3 2358.37V2277.16" fill="none" stroke="#8c1414" stroke-width="3.2"/>
<line x1="1628.17" y1="2358.37" x2="1628.17" y2="2277.16" stroke="#8c1414" stroke-width="3.2"/>
<line x1="1594.7" y1="2278.96" x2="1629.77" y2="2278.96" stroke="#8c1414" stroke-width="3.6"/>
<path d="M1651.34 2358.37V2325.15M1651.34 2358.37V2325.15" fill="none" stroke="#e84848" stroke-width="4"/>
<line x1="1683.14" y1="2358.37" x2="1683.14" y2="2325.15" stroke="#e84848" stroke-width="4"/>
<line x1="1649.34" y1="2327.15" x2="1685.14" y2="2327.15" stroke="#e84848" stroke-width="4"/>
<path d="M1707.81 2358.37V2285.65M1707.81 2358.37V2285.65" fill="none" stroke="#f4a4a8" stroke-width="4"/>
<line x1="1739.62" y1="2358.37" x2="1739.62" y2="2285.65" stroke="#f4a4a8" stroke-width="4"/>
<line x1="1705.81" y1="2287.65" x2="1741.62" y2="2287.65" stroke="#f4a4a8" stroke-width="4"/>
<path d="M1763.67 2358.37V2214.4M1763.67 2358.37V2214.4" fill="none" stroke="#10107c" stroke-width="3.5"/>
<line x1="1794.5" y1="2358.37" x2="1794.5" y2="2214.4" stroke="#10107c" stroke-width="3.5"/>
<line x1="1761.92" y1="2216.15" x2="1796.25" y2="2216.15" stroke="#10107c" stroke-width="3.5"/>
<path d="M1819.29 2358.37V2345.45M1819.29 2358.37V2345.45" fill="none" stroke="#1414d0" stroke-width="4"/>
<line x1="1851.1" y1="2358.37" x2="1851.1" y2="2345.45" stroke="#1414d0" stroke-width="4"/>
<line x1="1817.29" y1="2347.45" x2="1853.1" y2="2347.45" stroke="#1414d0" stroke-width="4"/>
<path d="M1876.26 2358.37V2333.64M1876.26 2358.37V2333.64" fill="none" stroke="#a4c4f0" stroke-width="3.5"/>
<line x1="1907.09" y1="2358.37" x2="1907.09" y2="2333.64" stroke="#a4c4f0" stroke-width="3.5"/>
<line x1="1874.51" y1="2335.39" x2="1908.84" y2="2335.39" stroke="#a4c4f0" stroke-width="3.5"/>
<path d="M1931.39 2358.37V2229.91M1931.39 2358.37V2229.91" fill="none" stroke="#185c1c" stroke-width="4.5"/>
<line x1="1962.7" y1="2358.37" x2="1962.7" y2="2229.91" stroke="#185c1c" stroke-width="4.5"/>
<line x1="1929.14" y1="2232.16" x2="1964.95" y2="2232.16" stroke="#185c1c" stroke-width="4.5"/>
<path d="M1987.25 2358.37V2350.25M1987.25 2358.37V2350.25" fill="none" stroke="#20b428" stroke-width="4"/>
<line x1="2018.32" y1="2358.37" x2="2018.32" y2="2350.25" stroke="#20b428" stroke-width="4"/>
<line x1="1985.25" y1="2352.25" x2="2020.32" y2="2352.25" stroke="#20b428" stroke-width="4"/>
<path d="M2043.11 2358.37V2343.6M2043.11 2358.37V2343.6" fill="none" stroke="#b4e0b8" stroke-width="3.5"/>
<line x1="2075.05" y1="2358.37" x2="2075.05" y2="2343.6" stroke="#b4e0b8" stroke-width="3.5"/>
<line x1="2041.36" y1="2345.35" x2="2076.8" y2="2345.35" stroke="#b4e0b8" stroke-width="3.5"/>
<path d="M1602.92 2257.59H1621.92M1612.42 2257.59V2294.88M1602.92 2294.88H1621.92" fill="none" stroke="#6e3838" stroke-width="1.7"/>
<path d="M1658.29 2311.12H1677.29M1667.79 2311.12V2334.37M1658.29 2334.37H1677.29" fill="none" stroke="#c47070" stroke-width="1.7"/>
<path d="M1714.4 2235.44H1733.4M1723.9 2235.44V2332.53M1714.4 2332.53H1733.4" fill="none" stroke="#deb0b4" stroke-width="1.7"/>
<path d="M1769.77 2120.27H1788.77M1779.27 2120.27V2304.84M1769.77 2304.84H1788.77" fill="none" stroke="#6464a8" stroke-width="1.7"/>
<path d="M1825.88 2339.91H1844.88M1835.38 2339.91V2352.83M1825.88 2352.83H1844.88" fill="none" stroke="#5c5ccc" stroke-width="1.7"/>
<path d="M1881.99 2307.8H1900.99M1891.49 2307.8V2356.52M1881.99 2356.52H1900.99" fill="none" stroke="#a8b8d6" stroke-width="1.7"/>
<path d="M2049.58 2325.15H2068.58M2059.08 2325.15V2356.52M2049.58 2356.52H2068.58" fill="none" stroke="#b8d0ba" stroke-width="1.7"/>
<circle cx="1612.42" cy="2256.12" r="6.2" fill="#ac1018"/>
<circle cx="1598.39" cy="2264.24" r="6.2" fill="#ac1018"/>
<circle cx="1626.08" cy="2266.45" r="6.2" fill="#ac1018"/>
<circle cx="1612.42" cy="2284.54" r="6.2" fill="#ac1018"/>
<circle cx="1612.42" cy="2305.58" r="6.2" fill="#ac1018"/>
<circle cx="1667.79" cy="2304.84" r="6.2" fill="#f04848"/>
<circle cx="1681.45" cy="2321.45" r="6.2" fill="#f04848"/>
<circle cx="1667.79" cy="2325.15" r="6.2" fill="#f04848"/>
<circle cx="1653.77" cy="2333.64" r="6.2" fill="#f04848"/>
<circle cx="1681.45" cy="2332.53" r="6.2" fill="#f04848"/>
<circle cx="1723.9" cy="2225.48" r="6.2" fill="#f8a8ac"/>
<circle cx="1723.9" cy="2250.21" r="6.2" fill="#f8a8ac"/>
<circle cx="1723.9" cy="2281.96" r="6.2" fill="#f8a8ac"/>
<circle cx="1710.24" cy="2334.37" r="6.2" fill="#f8a8ac"/>
<circle cx="1737.19" cy="2328.1" r="6.2" fill="#f8a8ac"/>
<circle cx="1779.27" cy="2118.43" r="6.2" fill="#10107c"/>
<circle cx="1779.27" cy="2218.83" r="6.2" fill="#10107c"/>
<circle cx="1779.27" cy="2303.74" r="6.2" fill="#10107c"/>
<circle cx="1821.72" cy="2342.5" r="6.2" fill="#1818e0"/>
<circle cx="1849.41" cy="2343.6" r="6.2" fill="#1818e0"/>
<circle cx="1835.38" cy="2356.52" r="6.2" fill="#1818e0"/>
<circle cx="1891.49" cy="2304.1" r="6.2" fill="#a4c8f4"/>
<circle cx="1878.2" cy="2347.29" r="6.2" fill="#a4c8f4"/>
<circle cx="1904.78" cy="2346.19" r="6.2" fill="#a4c8f4"/>
<circle cx="1933.57" cy="2227.32" r="6.2" fill="#186020"/>
<circle cx="1960.52" cy="2227.32" r="6.2" fill="#186020"/>
<circle cx="1988.94" cy="2350.25" r="6.2" fill="#20c028"/>
<circle cx="2002.6" cy="2346.56" r="6.2" fill="#20c028"/>
<circle cx="2016.63" cy="2350.25" r="6.2" fill="#20c028"/>
<circle cx="2059.08" cy="2323.3" r="6.2" fill="#b8e4bc"/>
<circle cx="2045.05" cy="2354.68" r="6.2" fill="#b8e4bc"/>
<circle cx="2073.11" cy="2349.14" r="6.2" fill="#b8e4bc"/>
<path d="M1575.51 2095.39V2358.37H2097.84" fill="none" stroke="#000" stroke-width="4" stroke-linejoin="miter"/>
<line x1="1562.59" y1="2358.37" x2="1575.51" y2="2358.37" stroke="#000" stroke-width="4"/>
<line x1="1835.01" y1="2358.37" x2="1835.01" y2="2369.44" stroke="#000" stroke-width="4"/>
<line x1="1562.59" y1="2097.39" x2="1575.51" y2="2097.39" stroke="#000" stroke-width="4"/>
<text transform="translate(1558.83 2105.59) scale(0.8200 1)" font-size="23.5" fill="#000" font-weight="bold" text-anchor="end">30000</text>
<line x1="1562.59" y1="2184.87" x2="1575.51" y2="2184.87" stroke="#000" stroke-width="4"/>
<text transform="translate(1558.83 2193.07) scale(0.8200 1)" font-size="23.5" fill="#000" font-weight="bold" text-anchor="end">20000</text>
<line x1="1562.59" y1="2271.62" x2="1575.51" y2="2271.62" stroke="#000" stroke-width="4"/>
<text transform="translate(1558.83 2279.82) scale(0.8200 1)" font-size="23.5" fill="#000" font-weight="bold" text-anchor="end">10000</text>
<line x1="1562.59" y1="2358.37" x2="1575.51" y2="2358.37" stroke="#000" stroke-width="4"/>
<text transform="translate(1558.83 2366.57) scale(0.8200 1)" font-size="23.5" fill="#000" font-weight="bold" text-anchor="end">0</text>
<text transform="translate(1492.07 2227.32) rotate(-90)" font-size="22.6" fill="#000" font-weight="bold" text-anchor="middle" textLength="230" lengthAdjust="spacingAndGlyphs">Concentration [pg/mL]</text>
<text transform="translate(1833.91 2395.28) scale(0.9800 1)" font-size="26.5" fill="#000" font-weight="bold" text-anchor="middle">IL-6</text>
<path d="M1778.53 2046.45V2030.94H1891.12V2289.34" fill="none" stroke="#000" stroke-width="2.8"/>
<text transform="translate(1833.91 2017.41) scale(0.9200 1)" font-size="23.8" fill="#000" text-anchor="middle">0.0123</text>
<path d="M1778.53 2101.82V2087.79H1835.01V2323.3" fill="none" stroke="#000" stroke-width="3.2"/>
<text transform="translate(1806.22 2072.78) scale(0.9200 1)" font-size="23.8" fill="#000" text-anchor="middle">0.0036</text>
<path d="M1946.49 2046.45V2030.94H2058.34V2306.69" fill="none" stroke="#000" stroke-width="2.8"/>
<text transform="translate(2001.86 2017.41) scale(0.9200 1)" font-size="23.8" fill="#000" text-anchor="middle">0.0467</text>
<path d="M1946.49 2211.82V2087.79H2002.6V2330.68" fill="none" stroke="#000" stroke-width="2"/>
<text transform="translate(1973.44 2072.78) scale(0.9200 1)" font-size="23.8" fill="#000" text-anchor="middle">0.0267</text>
</svg>
</body></html>
